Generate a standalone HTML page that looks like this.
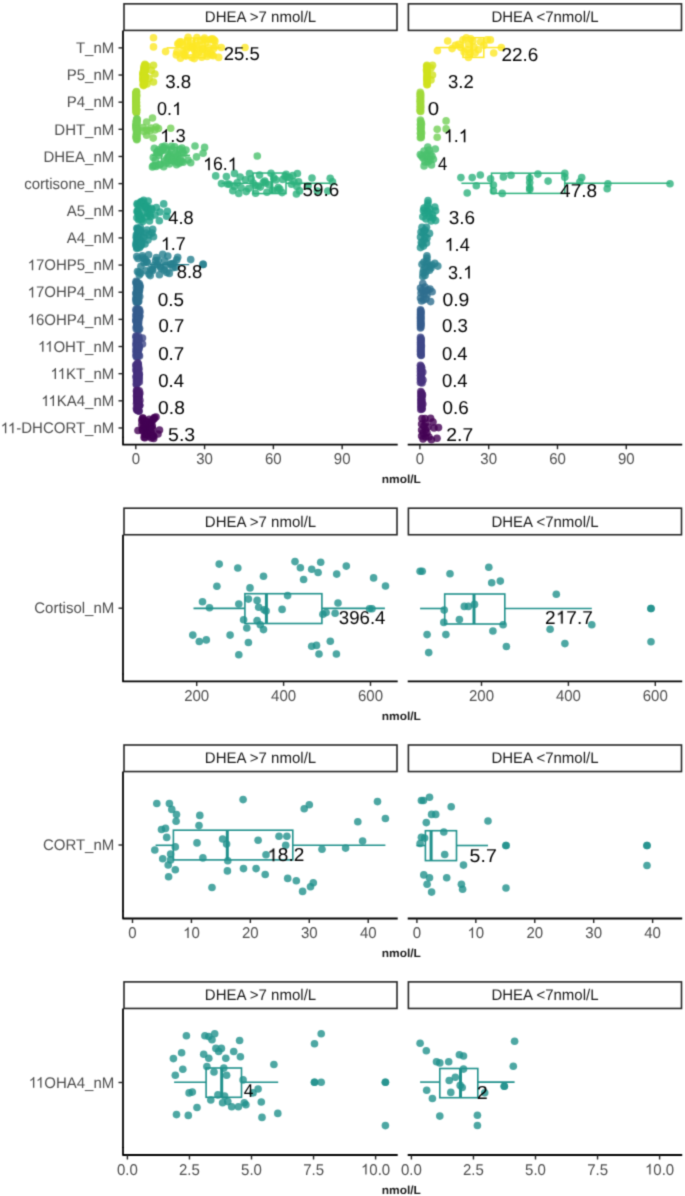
<!DOCTYPE html><html><head><meta charset="utf-8"><style>html,body{margin:0;padding:0;background:#fff;}svg{display:block;}text{font-family:"Liberation Sans",sans-serif;text-rendering:geometricPrecision;}</style></head><body>
<div id="w">
<svg width="685" height="1196" viewBox="0 0 685 1196">
<defs><filter id="bl" filterUnits="userSpaceOnUse" x="0" y="0" width="685" height="1196" color-interpolation-filters="sRGB"><feConvolveMatrix order="3" kernelMatrix="0.0622 0.2494 0.0622 0.2494 1.0000 0.2494 0.0622 0.2494 0.0622" divisor="2.2461" edgeMode="duplicate"/></filter></defs><g filter="url(#bl)"><rect width="685" height="1196" fill="#fff"/>
<rect x="124.00" y="3.85" width="273.00" height="26.55" fill="#fff" stroke="#262626" stroke-width="1.6"/>
<rect x="408.40" y="3.85" width="273.10" height="26.55" fill="#fff" stroke="#262626" stroke-width="1.6"/>
<path d="M123.0,436.7 L123.0,444.7 L397.7,444.7" fill="none" stroke="#000" stroke-width="1.8" stroke-linejoin="round"/>
<line x1="407.70" y1="444.70" x2="682.20" y2="444.70" stroke="#000" stroke-width="1.8"/>
<line x1="135.80" y1="444.70" x2="135.80" y2="449.20" stroke="#222" stroke-width="1.4"/>
<line x1="204.59" y1="444.70" x2="204.59" y2="449.20" stroke="#222" stroke-width="1.4"/>
<line x1="273.38" y1="444.70" x2="273.38" y2="449.20" stroke="#222" stroke-width="1.4"/>
<line x1="342.17" y1="444.70" x2="342.17" y2="449.20" stroke="#222" stroke-width="1.4"/>
<line x1="419.90" y1="444.70" x2="419.90" y2="449.20" stroke="#222" stroke-width="1.4"/>
<line x1="488.69" y1="444.70" x2="488.69" y2="449.20" stroke="#222" stroke-width="1.4"/>
<line x1="557.48" y1="444.70" x2="557.48" y2="449.20" stroke="#222" stroke-width="1.4"/>
<line x1="626.27" y1="444.70" x2="626.27" y2="449.20" stroke="#222" stroke-width="1.4"/>
<line x1="123.00" y1="30.40" x2="123.00" y2="437.70" stroke="#000" stroke-width="1.8"/>
<line x1="118.50" y1="47.87" x2="123.00" y2="47.87" stroke="#222" stroke-width="1.4"/>
<line x1="118.50" y1="75.02" x2="123.00" y2="75.02" stroke="#222" stroke-width="1.4"/>
<line x1="118.50" y1="102.17" x2="123.00" y2="102.17" stroke="#222" stroke-width="1.4"/>
<line x1="118.50" y1="129.32" x2="123.00" y2="129.32" stroke="#222" stroke-width="1.4"/>
<line x1="118.50" y1="156.47" x2="123.00" y2="156.47" stroke="#222" stroke-width="1.4"/>
<line x1="118.50" y1="183.62" x2="123.00" y2="183.62" stroke="#222" stroke-width="1.4"/>
<line x1="118.50" y1="210.77" x2="123.00" y2="210.77" stroke="#222" stroke-width="1.4"/>
<line x1="118.50" y1="237.92" x2="123.00" y2="237.92" stroke="#222" stroke-width="1.4"/>
<line x1="118.50" y1="265.07" x2="123.00" y2="265.07" stroke="#222" stroke-width="1.4"/>
<line x1="118.50" y1="292.22" x2="123.00" y2="292.22" stroke="#222" stroke-width="1.4"/>
<line x1="118.50" y1="319.37" x2="123.00" y2="319.37" stroke="#222" stroke-width="1.4"/>
<line x1="118.50" y1="346.52" x2="123.00" y2="346.52" stroke="#222" stroke-width="1.4"/>
<line x1="118.50" y1="373.67" x2="123.00" y2="373.67" stroke="#222" stroke-width="1.4"/>
<line x1="118.50" y1="400.82" x2="123.00" y2="400.82" stroke="#222" stroke-width="1.4"/>
<line x1="118.50" y1="427.97" x2="123.00" y2="427.97" stroke="#222" stroke-width="1.4"/>
<line x1="166.60" y1="47.87" x2="185.00" y2="47.87" stroke="#fde725" stroke-width="1.5"/>
<line x1="205.00" y1="47.87" x2="221.30" y2="47.87" stroke="#fde725" stroke-width="1.5"/>
<rect x="185.00" y="38.02" width="20.00" height="19.70" fill="none" stroke="#fde725" stroke-width="1.5"/>
<line x1="194.30" y1="38.02" x2="194.30" y2="57.72" stroke="#fde725" stroke-width="2.8"/>
<circle cx="153.5" cy="37.7" r="3.8" fill="#fde725" fill-opacity="0.8"/>
<circle cx="153.5" cy="46.9" r="3.8" fill="#fde725" fill-opacity="0.8"/>
<circle cx="165.6" cy="51.6" r="3.8" fill="#fde725" fill-opacity="0.8"/>
<circle cx="245.0" cy="47.5" r="3.8" fill="#fde725" fill-opacity="0.8"/>
<circle cx="221.3" cy="47.5" r="3.8" fill="#fde725" fill-opacity="0.8"/>
<circle cx="218.7" cy="57.4" r="3.8" fill="#fde725" fill-opacity="0.8"/>
<circle cx="214.0" cy="40.0" r="3.8" fill="#fde725" fill-opacity="0.8"/>
<circle cx="212.0" cy="55.0" r="3.8" fill="#fde725" fill-opacity="0.8"/>
<circle cx="176.3" cy="54.9" r="3.8" fill="#fde725" fill-opacity="0.8"/>
<circle cx="176.9" cy="52.0" r="3.8" fill="#fde725" fill-opacity="0.8"/>
<circle cx="177.8" cy="43.7" r="3.8" fill="#fde725" fill-opacity="0.8"/>
<circle cx="178.9" cy="43.9" r="3.8" fill="#fde725" fill-opacity="0.8"/>
<circle cx="179.8" cy="41.7" r="3.8" fill="#fde725" fill-opacity="0.8"/>
<circle cx="180.4" cy="58.2" r="3.8" fill="#fde725" fill-opacity="0.8"/>
<circle cx="181.6" cy="42.1" r="3.8" fill="#fde725" fill-opacity="0.8"/>
<circle cx="182.3" cy="44.5" r="3.8" fill="#fde725" fill-opacity="0.8"/>
<circle cx="183.4" cy="51.4" r="3.8" fill="#fde725" fill-opacity="0.8"/>
<circle cx="183.7" cy="53.7" r="3.8" fill="#fde725" fill-opacity="0.8"/>
<circle cx="184.4" cy="55.3" r="3.8" fill="#fde725" fill-opacity="0.8"/>
<circle cx="185.8" cy="56.1" r="3.8" fill="#fde725" fill-opacity="0.8"/>
<circle cx="186.4" cy="49.7" r="3.8" fill="#fde725" fill-opacity="0.8"/>
<circle cx="187.4" cy="41.0" r="3.8" fill="#fde725" fill-opacity="0.8"/>
<circle cx="188.1" cy="37.4" r="3.8" fill="#fde725" fill-opacity="0.8"/>
<circle cx="188.8" cy="47.3" r="3.8" fill="#fde725" fill-opacity="0.8"/>
<circle cx="189.8" cy="45.9" r="3.8" fill="#fde725" fill-opacity="0.8"/>
<circle cx="190.5" cy="42.8" r="3.8" fill="#fde725" fill-opacity="0.8"/>
<circle cx="191.8" cy="57.6" r="3.8" fill="#fde725" fill-opacity="0.8"/>
<circle cx="192.4" cy="47.9" r="3.8" fill="#fde725" fill-opacity="0.8"/>
<circle cx="193.3" cy="46.8" r="3.8" fill="#fde725" fill-opacity="0.8"/>
<circle cx="194.3" cy="58.6" r="3.8" fill="#fde725" fill-opacity="0.8"/>
<circle cx="194.6" cy="50.3" r="3.8" fill="#fde725" fill-opacity="0.8"/>
<circle cx="195.7" cy="54.2" r="3.8" fill="#fde725" fill-opacity="0.8"/>
<circle cx="196.4" cy="45.2" r="3.8" fill="#fde725" fill-opacity="0.8"/>
<circle cx="196.9" cy="37.5" r="3.8" fill="#fde725" fill-opacity="0.8"/>
<circle cx="198.3" cy="52.9" r="3.8" fill="#fde725" fill-opacity="0.8"/>
<circle cx="198.7" cy="44.9" r="3.8" fill="#fde725" fill-opacity="0.8"/>
<circle cx="200.1" cy="50.6" r="3.8" fill="#fde725" fill-opacity="0.8"/>
<circle cx="200.5" cy="40.4" r="3.8" fill="#fde725" fill-opacity="0.8"/>
<circle cx="201.7" cy="57.3" r="3.8" fill="#fde725" fill-opacity="0.8"/>
<circle cx="202.6" cy="48.9" r="3.8" fill="#fde725" fill-opacity="0.8"/>
<circle cx="203.0" cy="49.4" r="3.8" fill="#fde725" fill-opacity="0.8"/>
<circle cx="204.2" cy="39.7" r="3.8" fill="#fde725" fill-opacity="0.8"/>
<circle cx="204.5" cy="38.0" r="3.8" fill="#fde725" fill-opacity="0.8"/>
<circle cx="205.4" cy="43.0" r="3.8" fill="#fde725" fill-opacity="0.8"/>
<circle cx="206.4" cy="51.8" r="3.8" fill="#fde725" fill-opacity="0.8"/>
<circle cx="207.1" cy="56.5" r="3.8" fill="#fde725" fill-opacity="0.8"/>
<circle cx="208.0" cy="53.9" r="3.8" fill="#fde725" fill-opacity="0.8"/>
<circle cx="209.0" cy="47.8" r="3.8" fill="#fde725" fill-opacity="0.8"/>
<circle cx="209.9" cy="40.0" r="3.8" fill="#fde725" fill-opacity="0.8"/>
<circle cx="210.7" cy="52.7" r="3.8" fill="#fde725" fill-opacity="0.8"/>
<circle cx="211.0" cy="39.2" r="3.8" fill="#fde725" fill-opacity="0.8"/>
<circle cx="212.5" cy="38.8" r="3.8" fill="#fde725" fill-opacity="0.8"/>
<circle cx="213.3" cy="55.7" r="3.8" fill="#fde725" fill-opacity="0.8"/>
<circle cx="213.8" cy="48.4" r="3.8" fill="#fde725" fill-opacity="0.8"/>
<circle cx="214.9" cy="41.1" r="3.8" fill="#fde725" fill-opacity="0.8"/>
<circle cx="215.2" cy="46.2" r="3.8" fill="#fde725" fill-opacity="0.8"/>
<circle cx="142.8" cy="72.9" r="3.8" fill="#d0e11c" fill-opacity="0.8"/>
<circle cx="142.8" cy="74.8" r="3.8" fill="#d0e11c" fill-opacity="0.8"/>
<circle cx="142.9" cy="79.6" r="3.8" fill="#d0e11c" fill-opacity="0.8"/>
<circle cx="143.0" cy="77.2" r="3.8" fill="#d0e11c" fill-opacity="0.8"/>
<circle cx="143.1" cy="84.5" r="3.8" fill="#d0e11c" fill-opacity="0.8"/>
<circle cx="143.2" cy="81.0" r="3.8" fill="#d0e11c" fill-opacity="0.8"/>
<circle cx="143.2" cy="78.9" r="3.8" fill="#d0e11c" fill-opacity="0.8"/>
<circle cx="143.3" cy="74.1" r="3.8" fill="#d0e11c" fill-opacity="0.8"/>
<circle cx="143.4" cy="78.4" r="3.8" fill="#d0e11c" fill-opacity="0.8"/>
<circle cx="143.5" cy="85.6" r="3.8" fill="#d0e11c" fill-opacity="0.8"/>
<circle cx="143.6" cy="83.1" r="3.8" fill="#d0e11c" fill-opacity="0.8"/>
<circle cx="143.7" cy="85.1" r="3.8" fill="#d0e11c" fill-opacity="0.8"/>
<circle cx="143.8" cy="73.2" r="3.8" fill="#d0e11c" fill-opacity="0.8"/>
<circle cx="143.8" cy="70.2" r="3.8" fill="#d0e11c" fill-opacity="0.8"/>
<circle cx="143.9" cy="67.5" r="3.8" fill="#d0e11c" fill-opacity="0.8"/>
<circle cx="144.0" cy="69.7" r="3.8" fill="#d0e11c" fill-opacity="0.8"/>
<circle cx="144.1" cy="80.6" r="3.8" fill="#d0e11c" fill-opacity="0.8"/>
<circle cx="144.1" cy="71.9" r="3.8" fill="#d0e11c" fill-opacity="0.8"/>
<circle cx="144.2" cy="68.2" r="3.8" fill="#d0e11c" fill-opacity="0.8"/>
<circle cx="144.3" cy="65.9" r="3.8" fill="#d0e11c" fill-opacity="0.8"/>
<circle cx="144.4" cy="82.0" r="3.8" fill="#d0e11c" fill-opacity="0.8"/>
<circle cx="144.4" cy="83.4" r="3.8" fill="#d0e11c" fill-opacity="0.8"/>
<circle cx="144.6" cy="71.4" r="3.8" fill="#d0e11c" fill-opacity="0.8"/>
<circle cx="144.6" cy="82.7" r="3.8" fill="#d0e11c" fill-opacity="0.8"/>
<circle cx="144.7" cy="75.0" r="3.8" fill="#d0e11c" fill-opacity="0.8"/>
<circle cx="144.8" cy="66.9" r="3.8" fill="#d0e11c" fill-opacity="0.8"/>
<circle cx="144.9" cy="76.2" r="3.8" fill="#d0e11c" fill-opacity="0.8"/>
<circle cx="144.9" cy="64.4" r="3.8" fill="#d0e11c" fill-opacity="0.8"/>
<circle cx="145.1" cy="66.2" r="3.8" fill="#d0e11c" fill-opacity="0.8"/>
<circle cx="145.2" cy="65.1" r="3.8" fill="#d0e11c" fill-opacity="0.8"/>
<circle cx="145.2" cy="76.4" r="3.8" fill="#d0e11c" fill-opacity="0.8"/>
<circle cx="145.3" cy="78.0" r="3.8" fill="#d0e11c" fill-opacity="0.8"/>
<circle cx="145.4" cy="69.1" r="3.8" fill="#d0e11c" fill-opacity="0.8"/>
<circle cx="145.4" cy="70.6" r="3.8" fill="#d0e11c" fill-opacity="0.8"/>
<circle cx="153.5" cy="65.2" r="3.8" fill="#d0e11c" fill-opacity="0.8"/>
<circle cx="154.9" cy="74.0" r="3.8" fill="#d0e11c" fill-opacity="0.8"/>
<circle cx="153.5" cy="82.0" r="3.8" fill="#d0e11c" fill-opacity="0.8"/>
<circle cx="151.3" cy="70.3" r="3.8" fill="#d0e11c" fill-opacity="0.8"/>
<circle cx="149.1" cy="78.4" r="3.8" fill="#d0e11c" fill-opacity="0.8"/>
<circle cx="147.0" cy="66.0" r="3.8" fill="#d0e11c" fill-opacity="0.8"/>
<circle cx="147.0" cy="84.0" r="3.8" fill="#d0e11c" fill-opacity="0.8"/>
<circle cx="135.9" cy="93.1" r="3.8" fill="#a0da39" fill-opacity="0.8"/>
<circle cx="135.9" cy="97.5" r="3.8" fill="#a0da39" fill-opacity="0.8"/>
<circle cx="135.9" cy="98.1" r="3.8" fill="#a0da39" fill-opacity="0.8"/>
<circle cx="136.0" cy="99.6" r="3.8" fill="#a0da39" fill-opacity="0.8"/>
<circle cx="136.0" cy="107.6" r="3.8" fill="#a0da39" fill-opacity="0.8"/>
<circle cx="136.0" cy="105.1" r="3.8" fill="#a0da39" fill-opacity="0.8"/>
<circle cx="136.0" cy="101.9" r="3.8" fill="#a0da39" fill-opacity="0.8"/>
<circle cx="136.0" cy="108.8" r="3.8" fill="#a0da39" fill-opacity="0.8"/>
<circle cx="136.0" cy="101.0" r="3.8" fill="#a0da39" fill-opacity="0.8"/>
<circle cx="136.0" cy="100.5" r="3.8" fill="#a0da39" fill-opacity="0.8"/>
<circle cx="136.1" cy="93.8" r="3.8" fill="#a0da39" fill-opacity="0.8"/>
<circle cx="136.1" cy="97.1" r="3.8" fill="#a0da39" fill-opacity="0.8"/>
<circle cx="136.1" cy="103.0" r="3.8" fill="#a0da39" fill-opacity="0.8"/>
<circle cx="136.1" cy="92.5" r="3.8" fill="#a0da39" fill-opacity="0.8"/>
<circle cx="136.1" cy="98.8" r="3.8" fill="#a0da39" fill-opacity="0.8"/>
<circle cx="136.1" cy="104.6" r="3.8" fill="#a0da39" fill-opacity="0.8"/>
<circle cx="136.2" cy="111.1" r="3.8" fill="#a0da39" fill-opacity="0.8"/>
<circle cx="136.2" cy="96.6" r="3.8" fill="#a0da39" fill-opacity="0.8"/>
<circle cx="136.2" cy="100.2" r="3.8" fill="#a0da39" fill-opacity="0.8"/>
<circle cx="136.2" cy="94.9" r="3.8" fill="#a0da39" fill-opacity="0.8"/>
<circle cx="136.2" cy="111.4" r="3.8" fill="#a0da39" fill-opacity="0.8"/>
<circle cx="136.2" cy="108.3" r="3.8" fill="#a0da39" fill-opacity="0.8"/>
<circle cx="136.2" cy="103.4" r="3.8" fill="#a0da39" fill-opacity="0.8"/>
<circle cx="136.3" cy="108.2" r="3.8" fill="#a0da39" fill-opacity="0.8"/>
<circle cx="136.3" cy="106.9" r="3.8" fill="#a0da39" fill-opacity="0.8"/>
<circle cx="136.3" cy="103.9" r="3.8" fill="#a0da39" fill-opacity="0.8"/>
<circle cx="136.3" cy="106.6" r="3.8" fill="#a0da39" fill-opacity="0.8"/>
<circle cx="136.3" cy="98.0" r="3.8" fill="#a0da39" fill-opacity="0.8"/>
<circle cx="136.3" cy="93.6" r="3.8" fill="#a0da39" fill-opacity="0.8"/>
<circle cx="136.4" cy="102.8" r="3.8" fill="#a0da39" fill-opacity="0.8"/>
<circle cx="136.4" cy="99.2" r="3.8" fill="#a0da39" fill-opacity="0.8"/>
<circle cx="136.4" cy="94.4" r="3.8" fill="#a0da39" fill-opacity="0.8"/>
<circle cx="136.4" cy="91.5" r="3.8" fill="#a0da39" fill-opacity="0.8"/>
<circle cx="136.4" cy="112.3" r="3.8" fill="#a0da39" fill-opacity="0.8"/>
<circle cx="136.4" cy="112.7" r="3.8" fill="#a0da39" fill-opacity="0.8"/>
<circle cx="136.5" cy="110.3" r="3.8" fill="#a0da39" fill-opacity="0.8"/>
<circle cx="136.5" cy="102.0" r="3.8" fill="#a0da39" fill-opacity="0.8"/>
<circle cx="136.5" cy="105.9" r="3.8" fill="#a0da39" fill-opacity="0.8"/>
<circle cx="136.5" cy="109.7" r="3.8" fill="#a0da39" fill-opacity="0.8"/>
<circle cx="136.5" cy="112.0" r="3.8" fill="#a0da39" fill-opacity="0.8"/>
<circle cx="136.5" cy="105.7" r="3.8" fill="#a0da39" fill-opacity="0.8"/>
<circle cx="136.6" cy="109.6" r="3.8" fill="#a0da39" fill-opacity="0.8"/>
<circle cx="136.6" cy="96.1" r="3.8" fill="#a0da39" fill-opacity="0.8"/>
<circle cx="136.6" cy="92.1" r="3.8" fill="#a0da39" fill-opacity="0.8"/>
<circle cx="136.6" cy="95.4" r="3.8" fill="#a0da39" fill-opacity="0.8"/>
<line x1="139.60" y1="128.00" x2="160.00" y2="128.00" stroke="#73d056" stroke-width="1.2"/>
<circle cx="136.0" cy="125.6" r="3.8" fill="#73d056" fill-opacity="0.8"/>
<circle cx="136.0" cy="125.0" r="3.8" fill="#73d056" fill-opacity="0.8"/>
<circle cx="136.1" cy="128.2" r="3.8" fill="#73d056" fill-opacity="0.8"/>
<circle cx="136.1" cy="127.5" r="3.8" fill="#73d056" fill-opacity="0.8"/>
<circle cx="136.2" cy="137.6" r="3.8" fill="#73d056" fill-opacity="0.8"/>
<circle cx="136.2" cy="126.1" r="3.8" fill="#73d056" fill-opacity="0.8"/>
<circle cx="136.2" cy="124.6" r="3.8" fill="#73d056" fill-opacity="0.8"/>
<circle cx="136.3" cy="135.4" r="3.8" fill="#73d056" fill-opacity="0.8"/>
<circle cx="136.3" cy="138.3" r="3.8" fill="#73d056" fill-opacity="0.8"/>
<circle cx="136.3" cy="121.3" r="3.8" fill="#73d056" fill-opacity="0.8"/>
<circle cx="136.4" cy="122.8" r="3.8" fill="#73d056" fill-opacity="0.8"/>
<circle cx="136.4" cy="129.0" r="3.8" fill="#73d056" fill-opacity="0.8"/>
<circle cx="136.4" cy="136.3" r="3.8" fill="#73d056" fill-opacity="0.8"/>
<circle cx="136.5" cy="133.7" r="3.8" fill="#73d056" fill-opacity="0.8"/>
<circle cx="136.5" cy="130.4" r="3.8" fill="#73d056" fill-opacity="0.8"/>
<circle cx="136.5" cy="120.6" r="3.8" fill="#73d056" fill-opacity="0.8"/>
<circle cx="136.6" cy="136.4" r="3.8" fill="#73d056" fill-opacity="0.8"/>
<circle cx="136.6" cy="131.1" r="3.8" fill="#73d056" fill-opacity="0.8"/>
<circle cx="136.6" cy="123.0" r="3.8" fill="#73d056" fill-opacity="0.8"/>
<circle cx="136.7" cy="132.4" r="3.8" fill="#73d056" fill-opacity="0.8"/>
<circle cx="136.7" cy="134.2" r="3.8" fill="#73d056" fill-opacity="0.8"/>
<circle cx="136.8" cy="137.1" r="3.8" fill="#73d056" fill-opacity="0.8"/>
<circle cx="136.8" cy="139.8" r="3.8" fill="#73d056" fill-opacity="0.8"/>
<circle cx="136.8" cy="118.7" r="3.8" fill="#73d056" fill-opacity="0.8"/>
<circle cx="136.9" cy="124.2" r="3.8" fill="#73d056" fill-opacity="0.8"/>
<circle cx="136.9" cy="120.1" r="3.8" fill="#73d056" fill-opacity="0.8"/>
<circle cx="136.9" cy="127.4" r="3.8" fill="#73d056" fill-opacity="0.8"/>
<circle cx="137.0" cy="139.1" r="3.8" fill="#73d056" fill-opacity="0.8"/>
<circle cx="137.0" cy="132.8" r="3.8" fill="#73d056" fill-opacity="0.8"/>
<circle cx="137.0" cy="134.8" r="3.8" fill="#73d056" fill-opacity="0.8"/>
<circle cx="137.1" cy="119.4" r="3.8" fill="#73d056" fill-opacity="0.8"/>
<circle cx="137.1" cy="129.5" r="3.8" fill="#73d056" fill-opacity="0.8"/>
<circle cx="137.1" cy="121.9" r="3.8" fill="#73d056" fill-opacity="0.8"/>
<circle cx="137.2" cy="131.3" r="3.8" fill="#73d056" fill-opacity="0.8"/>
<circle cx="152.5" cy="118.0" r="3.8" fill="#73d056" fill-opacity="0.8"/>
<circle cx="146.6" cy="122.0" r="3.8" fill="#73d056" fill-opacity="0.8"/>
<circle cx="146.6" cy="135.2" r="3.8" fill="#73d056" fill-opacity="0.8"/>
<circle cx="153.2" cy="138.1" r="3.8" fill="#73d056" fill-opacity="0.8"/>
<circle cx="170.7" cy="128.2" r="3.8" fill="#73d056" fill-opacity="0.8"/>
<circle cx="143.0" cy="127.5" r="3.8" fill="#73d056" fill-opacity="0.8"/>
<circle cx="147.0" cy="130.0" r="3.8" fill="#73d056" fill-opacity="0.8"/>
<circle cx="151.0" cy="128.0" r="3.8" fill="#73d056" fill-opacity="0.8"/>
<circle cx="155.0" cy="130.0" r="3.8" fill="#73d056" fill-opacity="0.8"/>
<circle cx="158.5" cy="128.5" r="3.8" fill="#73d056" fill-opacity="0.8"/>
<circle cx="144.0" cy="131.5" r="3.8" fill="#73d056" fill-opacity="0.8"/>
<circle cx="150.0" cy="131.0" r="3.8" fill="#73d056" fill-opacity="0.8"/>
<circle cx="156.0" cy="127.0" r="3.8" fill="#73d056" fill-opacity="0.8"/>
<line x1="152.00" y1="155.40" x2="161.60" y2="155.40" stroke="#4ac16d" stroke-width="1.5"/>
<line x1="177.30" y1="155.40" x2="190.00" y2="155.40" stroke="#4ac16d" stroke-width="1.5"/>
<rect x="161.60" y="147.60" width="15.70" height="15.60" fill="none" stroke="#4ac16d" stroke-width="1.5"/>
<line x1="169.00" y1="147.60" x2="169.00" y2="163.20" stroke="#4ac16d" stroke-width="2.8"/>
<circle cx="152.4" cy="166.9" r="3.8" fill="#4ac16d" fill-opacity="0.8"/>
<circle cx="153.1" cy="165.8" r="3.8" fill="#4ac16d" fill-opacity="0.8"/>
<circle cx="153.3" cy="157.4" r="3.8" fill="#4ac16d" fill-opacity="0.8"/>
<circle cx="154.3" cy="148.2" r="3.8" fill="#4ac16d" fill-opacity="0.8"/>
<circle cx="154.9" cy="165.6" r="3.8" fill="#4ac16d" fill-opacity="0.8"/>
<circle cx="155.4" cy="160.0" r="3.8" fill="#4ac16d" fill-opacity="0.8"/>
<circle cx="156.0" cy="166.4" r="3.8" fill="#4ac16d" fill-opacity="0.8"/>
<circle cx="156.8" cy="152.6" r="3.8" fill="#4ac16d" fill-opacity="0.8"/>
<circle cx="157.3" cy="151.9" r="3.8" fill="#4ac16d" fill-opacity="0.8"/>
<circle cx="157.6" cy="152.8" r="3.8" fill="#4ac16d" fill-opacity="0.8"/>
<circle cx="158.6" cy="149.9" r="3.8" fill="#4ac16d" fill-opacity="0.8"/>
<circle cx="159.1" cy="155.2" r="3.8" fill="#4ac16d" fill-opacity="0.8"/>
<circle cx="159.4" cy="164.9" r="3.8" fill="#4ac16d" fill-opacity="0.8"/>
<circle cx="160.4" cy="164.3" r="3.8" fill="#4ac16d" fill-opacity="0.8"/>
<circle cx="161.0" cy="151.2" r="3.8" fill="#4ac16d" fill-opacity="0.8"/>
<circle cx="161.5" cy="150.8" r="3.8" fill="#4ac16d" fill-opacity="0.8"/>
<circle cx="162.1" cy="146.9" r="3.8" fill="#4ac16d" fill-opacity="0.8"/>
<circle cx="163.0" cy="150.3" r="3.8" fill="#4ac16d" fill-opacity="0.8"/>
<circle cx="163.7" cy="147.7" r="3.8" fill="#4ac16d" fill-opacity="0.8"/>
<circle cx="163.7" cy="166.7" r="3.8" fill="#4ac16d" fill-opacity="0.8"/>
<circle cx="164.8" cy="146.0" r="3.8" fill="#4ac16d" fill-opacity="0.8"/>
<circle cx="165.2" cy="160.8" r="3.8" fill="#4ac16d" fill-opacity="0.8"/>
<circle cx="165.7" cy="148.9" r="3.8" fill="#4ac16d" fill-opacity="0.8"/>
<circle cx="166.3" cy="163.0" r="3.8" fill="#4ac16d" fill-opacity="0.8"/>
<circle cx="166.9" cy="158.4" r="3.8" fill="#4ac16d" fill-opacity="0.8"/>
<circle cx="168.0" cy="157.8" r="3.8" fill="#4ac16d" fill-opacity="0.8"/>
<circle cx="168.5" cy="155.0" r="3.8" fill="#4ac16d" fill-opacity="0.8"/>
<circle cx="169.2" cy="156.3" r="3.8" fill="#4ac16d" fill-opacity="0.8"/>
<circle cx="169.4" cy="163.9" r="3.8" fill="#4ac16d" fill-opacity="0.8"/>
<circle cx="170.1" cy="154.4" r="3.8" fill="#4ac16d" fill-opacity="0.8"/>
<circle cx="170.5" cy="156.7" r="3.8" fill="#4ac16d" fill-opacity="0.8"/>
<circle cx="171.4" cy="146.2" r="3.8" fill="#4ac16d" fill-opacity="0.8"/>
<circle cx="171.8" cy="149.1" r="3.8" fill="#4ac16d" fill-opacity="0.8"/>
<circle cx="172.5" cy="160.6" r="3.8" fill="#4ac16d" fill-opacity="0.8"/>
<circle cx="172.9" cy="157.2" r="3.8" fill="#4ac16d" fill-opacity="0.8"/>
<circle cx="174.1" cy="159.0" r="3.8" fill="#4ac16d" fill-opacity="0.8"/>
<circle cx="174.7" cy="146.7" r="3.8" fill="#4ac16d" fill-opacity="0.8"/>
<circle cx="175.3" cy="162.0" r="3.8" fill="#4ac16d" fill-opacity="0.8"/>
<circle cx="175.6" cy="153.3" r="3.8" fill="#4ac16d" fill-opacity="0.8"/>
<circle cx="176.6" cy="164.7" r="3.8" fill="#4ac16d" fill-opacity="0.8"/>
<circle cx="176.8" cy="158.7" r="3.8" fill="#4ac16d" fill-opacity="0.8"/>
<circle cx="177.4" cy="154.0" r="3.8" fill="#4ac16d" fill-opacity="0.8"/>
<circle cx="177.9" cy="156.0" r="3.8" fill="#4ac16d" fill-opacity="0.8"/>
<circle cx="178.6" cy="161.9" r="3.8" fill="#4ac16d" fill-opacity="0.8"/>
<circle cx="179.2" cy="163.3" r="3.8" fill="#4ac16d" fill-opacity="0.8"/>
<circle cx="180.0" cy="149.4" r="3.8" fill="#4ac16d" fill-opacity="0.8"/>
<circle cx="180.5" cy="159.8" r="3.8" fill="#4ac16d" fill-opacity="0.8"/>
<circle cx="181.5" cy="161.4" r="3.8" fill="#4ac16d" fill-opacity="0.8"/>
<circle cx="181.9" cy="148.1" r="3.8" fill="#4ac16d" fill-opacity="0.8"/>
<circle cx="182.7" cy="151.7" r="3.8" fill="#4ac16d" fill-opacity="0.8"/>
<circle cx="183.2" cy="162.3" r="3.8" fill="#4ac16d" fill-opacity="0.8"/>
<circle cx="183.8" cy="153.7" r="3.8" fill="#4ac16d" fill-opacity="0.8"/>
<circle cx="195.0" cy="146.0" r="3.8" fill="#4ac16d" fill-opacity="0.8"/>
<circle cx="204.6" cy="147.4" r="3.8" fill="#4ac16d" fill-opacity="0.8"/>
<circle cx="203.1" cy="153.2" r="3.8" fill="#4ac16d" fill-opacity="0.8"/>
<circle cx="196.5" cy="156.9" r="3.8" fill="#4ac16d" fill-opacity="0.8"/>
<circle cx="190.7" cy="162.7" r="3.8" fill="#4ac16d" fill-opacity="0.8"/>
<circle cx="257.3" cy="156.0" r="3.8" fill="#4ac16d" fill-opacity="0.8"/>
<circle cx="186.0" cy="150.0" r="3.8" fill="#4ac16d" fill-opacity="0.8"/>
<circle cx="188.0" cy="160.0" r="3.8" fill="#4ac16d" fill-opacity="0.8"/>
<line x1="221.50" y1="183.30" x2="253.10" y2="183.30" stroke="#2db27d" stroke-width="1.5"/>
<line x1="286.00" y1="183.30" x2="330.20" y2="183.30" stroke="#2db27d" stroke-width="1.5"/>
<rect x="253.10" y="173.05" width="32.90" height="20.50" fill="none" stroke="#2db27d" stroke-width="1.5"/>
<line x1="271.90" y1="173.05" x2="271.90" y2="193.55" stroke="#2db27d" stroke-width="2.8"/>
<circle cx="215.7" cy="175.9" r="3.8" fill="#2db27d" fill-opacity="0.8"/>
<circle cx="221.5" cy="183.6" r="3.8" fill="#2db27d" fill-opacity="0.8"/>
<circle cx="227.4" cy="184.0" r="3.8" fill="#2db27d" fill-opacity="0.8"/>
<circle cx="234.4" cy="186.4" r="3.8" fill="#2db27d" fill-opacity="0.8"/>
<circle cx="240.2" cy="177.0" r="3.8" fill="#2db27d" fill-opacity="0.8"/>
<circle cx="330.2" cy="178.2" r="3.8" fill="#2db27d" fill-opacity="0.8"/>
<circle cx="332.5" cy="181.7" r="3.8" fill="#2db27d" fill-opacity="0.8"/>
<circle cx="327.8" cy="191.0" r="3.8" fill="#2db27d" fill-opacity="0.8"/>
<circle cx="317.3" cy="191.0" r="3.8" fill="#2db27d" fill-opacity="0.8"/>
<circle cx="297.4" cy="173.5" r="3.8" fill="#2db27d" fill-opacity="0.8"/>
<circle cx="298.6" cy="181.7" r="3.8" fill="#2db27d" fill-opacity="0.8"/>
<circle cx="308.0" cy="186.0" r="3.8" fill="#2db27d" fill-opacity="0.8"/>
<circle cx="312.0" cy="178.0" r="3.8" fill="#2db27d" fill-opacity="0.8"/>
<circle cx="226.4" cy="176.6" r="3.8" fill="#2db27d" fill-opacity="0.8"/>
<circle cx="229.2" cy="184.3" r="3.8" fill="#2db27d" fill-opacity="0.8"/>
<circle cx="232.8" cy="190.8" r="3.8" fill="#2db27d" fill-opacity="0.8"/>
<circle cx="234.5" cy="173.4" r="3.8" fill="#2db27d" fill-opacity="0.8"/>
<circle cx="237.2" cy="182.7" r="3.8" fill="#2db27d" fill-opacity="0.8"/>
<circle cx="238.8" cy="193.5" r="3.8" fill="#2db27d" fill-opacity="0.8"/>
<circle cx="241.2" cy="187.7" r="3.8" fill="#2db27d" fill-opacity="0.8"/>
<circle cx="245.5" cy="179.7" r="3.8" fill="#2db27d" fill-opacity="0.8"/>
<circle cx="246.2" cy="191.6" r="3.8" fill="#2db27d" fill-opacity="0.8"/>
<circle cx="248.6" cy="188.6" r="3.8" fill="#2db27d" fill-opacity="0.8"/>
<circle cx="249.5" cy="173.6" r="3.8" fill="#2db27d" fill-opacity="0.8"/>
<circle cx="251.2" cy="178.8" r="3.8" fill="#2db27d" fill-opacity="0.8"/>
<circle cx="253.1" cy="183.0" r="3.8" fill="#2db27d" fill-opacity="0.8"/>
<circle cx="255.3" cy="185.5" r="3.8" fill="#2db27d" fill-opacity="0.8"/>
<circle cx="255.6" cy="193.2" r="3.8" fill="#2db27d" fill-opacity="0.8"/>
<circle cx="258.2" cy="186.1" r="3.8" fill="#2db27d" fill-opacity="0.8"/>
<circle cx="259.5" cy="175.1" r="3.8" fill="#2db27d" fill-opacity="0.8"/>
<circle cx="260.3" cy="187.1" r="3.8" fill="#2db27d" fill-opacity="0.8"/>
<circle cx="263.4" cy="182.2" r="3.8" fill="#2db27d" fill-opacity="0.8"/>
<circle cx="264.8" cy="181.0" r="3.8" fill="#2db27d" fill-opacity="0.8"/>
<circle cx="265.5" cy="183.1" r="3.8" fill="#2db27d" fill-opacity="0.8"/>
<circle cx="266.9" cy="192.3" r="3.8" fill="#2db27d" fill-opacity="0.8"/>
<circle cx="269.3" cy="184.9" r="3.8" fill="#2db27d" fill-opacity="0.8"/>
<circle cx="271.0" cy="173.2" r="3.8" fill="#2db27d" fill-opacity="0.8"/>
<circle cx="272.6" cy="190.3" r="3.8" fill="#2db27d" fill-opacity="0.8"/>
<circle cx="273.9" cy="177.9" r="3.8" fill="#2db27d" fill-opacity="0.8"/>
<circle cx="275.8" cy="179.9" r="3.8" fill="#2db27d" fill-opacity="0.8"/>
<circle cx="277.6" cy="189.8" r="3.8" fill="#2db27d" fill-opacity="0.8"/>
<circle cx="278.2" cy="187.5" r="3.8" fill="#2db27d" fill-opacity="0.8"/>
<circle cx="279.8" cy="189.1" r="3.8" fill="#2db27d" fill-opacity="0.8"/>
<circle cx="282.1" cy="192.6" r="3.8" fill="#2db27d" fill-opacity="0.8"/>
<circle cx="282.6" cy="179.5" r="3.8" fill="#2db27d" fill-opacity="0.8"/>
<circle cx="285.0" cy="176.2" r="3.8" fill="#2db27d" fill-opacity="0.8"/>
<circle cx="286.1" cy="174.4" r="3.8" fill="#2db27d" fill-opacity="0.8"/>
<circle cx="287.3" cy="177.4" r="3.8" fill="#2db27d" fill-opacity="0.8"/>
<circle cx="289.6" cy="177.2" r="3.8" fill="#2db27d" fill-opacity="0.8"/>
<circle cx="291.5" cy="184.2" r="3.8" fill="#2db27d" fill-opacity="0.8"/>
<circle cx="292.8" cy="175.5" r="3.8" fill="#2db27d" fill-opacity="0.8"/>
<circle cx="294.0" cy="181.7" r="3.8" fill="#2db27d" fill-opacity="0.8"/>
<circle cx="296.4" cy="194.0" r="3.8" fill="#2db27d" fill-opacity="0.8"/>
<circle cx="296.9" cy="186.5" r="3.8" fill="#2db27d" fill-opacity="0.8"/>
<circle cx="299.5" cy="190.9" r="3.8" fill="#2db27d" fill-opacity="0.8"/>
<circle cx="136.9" cy="217.7" r="3.8" fill="#1fa187" fill-opacity="0.8"/>
<circle cx="137.0" cy="211.4" r="3.8" fill="#1fa187" fill-opacity="0.8"/>
<circle cx="137.2" cy="203.5" r="3.8" fill="#1fa187" fill-opacity="0.8"/>
<circle cx="137.3" cy="204.8" r="3.8" fill="#1fa187" fill-opacity="0.8"/>
<circle cx="137.7" cy="212.2" r="3.8" fill="#1fa187" fill-opacity="0.8"/>
<circle cx="138.0" cy="210.3" r="3.8" fill="#1fa187" fill-opacity="0.8"/>
<circle cx="138.2" cy="211.2" r="3.8" fill="#1fa187" fill-opacity="0.8"/>
<circle cx="138.4" cy="215.1" r="3.8" fill="#1fa187" fill-opacity="0.8"/>
<circle cx="138.7" cy="219.9" r="3.8" fill="#1fa187" fill-opacity="0.8"/>
<circle cx="139.0" cy="204.5" r="3.8" fill="#1fa187" fill-opacity="0.8"/>
<circle cx="139.5" cy="214.7" r="3.8" fill="#1fa187" fill-opacity="0.8"/>
<circle cx="139.8" cy="219.1" r="3.8" fill="#1fa187" fill-opacity="0.8"/>
<circle cx="140.4" cy="216.2" r="3.8" fill="#1fa187" fill-opacity="0.8"/>
<circle cx="140.6" cy="202.4" r="3.8" fill="#1fa187" fill-opacity="0.8"/>
<circle cx="140.9" cy="201.8" r="3.8" fill="#1fa187" fill-opacity="0.8"/>
<circle cx="141.4" cy="218.5" r="3.8" fill="#1fa187" fill-opacity="0.8"/>
<circle cx="141.9" cy="219.7" r="3.8" fill="#1fa187" fill-opacity="0.8"/>
<circle cx="142.3" cy="201.6" r="3.8" fill="#1fa187" fill-opacity="0.8"/>
<circle cx="142.7" cy="221.5" r="3.8" fill="#1fa187" fill-opacity="0.8"/>
<circle cx="143.1" cy="205.8" r="3.8" fill="#1fa187" fill-opacity="0.8"/>
<circle cx="143.6" cy="200.2" r="3.8" fill="#1fa187" fill-opacity="0.8"/>
<circle cx="144.2" cy="203.7" r="3.8" fill="#1fa187" fill-opacity="0.8"/>
<circle cx="144.8" cy="207.4" r="3.8" fill="#1fa187" fill-opacity="0.8"/>
<circle cx="145.2" cy="212.7" r="3.8" fill="#1fa187" fill-opacity="0.8"/>
<circle cx="145.7" cy="206.8" r="3.8" fill="#1fa187" fill-opacity="0.8"/>
<circle cx="146.1" cy="208.0" r="3.8" fill="#1fa187" fill-opacity="0.8"/>
<circle cx="146.9" cy="216.8" r="3.8" fill="#1fa187" fill-opacity="0.8"/>
<circle cx="147.1" cy="206.0" r="3.8" fill="#1fa187" fill-opacity="0.8"/>
<circle cx="147.8" cy="213.4" r="3.8" fill="#1fa187" fill-opacity="0.8"/>
<circle cx="148.2" cy="201.1" r="3.8" fill="#1fa187" fill-opacity="0.8"/>
<circle cx="148.6" cy="209.4" r="3.8" fill="#1fa187" fill-opacity="0.8"/>
<circle cx="149.5" cy="221.0" r="3.8" fill="#1fa187" fill-opacity="0.8"/>
<circle cx="149.9" cy="214.2" r="3.8" fill="#1fa187" fill-opacity="0.8"/>
<circle cx="150.6" cy="216.7" r="3.8" fill="#1fa187" fill-opacity="0.8"/>
<circle cx="151.4" cy="208.4" r="3.8" fill="#1fa187" fill-opacity="0.8"/>
<circle cx="151.9" cy="209.6" r="3.8" fill="#1fa187" fill-opacity="0.8"/>
<circle cx="163.7" cy="203.9" r="3.8" fill="#1fa187" fill-opacity="0.8"/>
<circle cx="167.3" cy="211.2" r="3.8" fill="#1fa187" fill-opacity="0.8"/>
<circle cx="166.6" cy="216.3" r="3.8" fill="#1fa187" fill-opacity="0.8"/>
<circle cx="159.3" cy="220.7" r="3.8" fill="#1fa187" fill-opacity="0.8"/>
<circle cx="156.4" cy="207.5" r="3.8" fill="#1fa187" fill-opacity="0.8"/>
<circle cx="160.0" cy="212.0" r="3.8" fill="#1fa187" fill-opacity="0.8"/>
<circle cx="155.0" cy="215.0" r="3.8" fill="#1fa187" fill-opacity="0.8"/>
<circle cx="136.1" cy="244.4" r="3.8" fill="#21918c" fill-opacity="0.8"/>
<circle cx="136.1" cy="245.4" r="3.8" fill="#21918c" fill-opacity="0.8"/>
<circle cx="136.2" cy="237.2" r="3.8" fill="#21918c" fill-opacity="0.8"/>
<circle cx="136.3" cy="242.1" r="3.8" fill="#21918c" fill-opacity="0.8"/>
<circle cx="136.4" cy="234.8" r="3.8" fill="#21918c" fill-opacity="0.8"/>
<circle cx="136.5" cy="243.5" r="3.8" fill="#21918c" fill-opacity="0.8"/>
<circle cx="136.6" cy="246.9" r="3.8" fill="#21918c" fill-opacity="0.8"/>
<circle cx="136.7" cy="239.5" r="3.8" fill="#21918c" fill-opacity="0.8"/>
<circle cx="136.8" cy="248.5" r="3.8" fill="#21918c" fill-opacity="0.8"/>
<circle cx="137.0" cy="228.1" r="3.8" fill="#21918c" fill-opacity="0.8"/>
<circle cx="137.1" cy="237.5" r="3.8" fill="#21918c" fill-opacity="0.8"/>
<circle cx="137.2" cy="228.9" r="3.8" fill="#21918c" fill-opacity="0.8"/>
<circle cx="137.5" cy="247.4" r="3.8" fill="#21918c" fill-opacity="0.8"/>
<circle cx="137.5" cy="234.1" r="3.8" fill="#21918c" fill-opacity="0.8"/>
<circle cx="137.8" cy="235.9" r="3.8" fill="#21918c" fill-opacity="0.8"/>
<circle cx="137.8" cy="231.0" r="3.8" fill="#21918c" fill-opacity="0.8"/>
<circle cx="138.1" cy="228.8" r="3.8" fill="#21918c" fill-opacity="0.8"/>
<circle cx="138.1" cy="233.6" r="3.8" fill="#21918c" fill-opacity="0.8"/>
<circle cx="138.4" cy="235.5" r="3.8" fill="#21918c" fill-opacity="0.8"/>
<circle cx="138.6" cy="238.5" r="3.8" fill="#21918c" fill-opacity="0.8"/>
<circle cx="138.7" cy="232.8" r="3.8" fill="#21918c" fill-opacity="0.8"/>
<circle cx="138.8" cy="231.6" r="3.8" fill="#21918c" fill-opacity="0.8"/>
<circle cx="139.1" cy="238.5" r="3.8" fill="#21918c" fill-opacity="0.8"/>
<circle cx="139.2" cy="229.8" r="3.8" fill="#21918c" fill-opacity="0.8"/>
<circle cx="139.4" cy="247.8" r="3.8" fill="#21918c" fill-opacity="0.8"/>
<circle cx="139.6" cy="240.2" r="3.8" fill="#21918c" fill-opacity="0.8"/>
<circle cx="139.7" cy="232.5" r="3.8" fill="#21918c" fill-opacity="0.8"/>
<circle cx="140.0" cy="240.3" r="3.8" fill="#21918c" fill-opacity="0.8"/>
<circle cx="140.1" cy="241.4" r="3.8" fill="#21918c" fill-opacity="0.8"/>
<circle cx="140.3" cy="227.2" r="3.8" fill="#21918c" fill-opacity="0.8"/>
<circle cx="140.5" cy="230.3" r="3.8" fill="#21918c" fill-opacity="0.8"/>
<circle cx="140.6" cy="245.9" r="3.8" fill="#21918c" fill-opacity="0.8"/>
<circle cx="140.9" cy="232.0" r="3.8" fill="#21918c" fill-opacity="0.8"/>
<circle cx="141.0" cy="245.0" r="3.8" fill="#21918c" fill-opacity="0.8"/>
<circle cx="141.2" cy="242.9" r="3.8" fill="#21918c" fill-opacity="0.8"/>
<circle cx="141.5" cy="236.2" r="3.8" fill="#21918c" fill-opacity="0.8"/>
<circle cx="141.6" cy="241.0" r="3.8" fill="#21918c" fill-opacity="0.8"/>
<circle cx="141.9" cy="244.0" r="3.8" fill="#21918c" fill-opacity="0.8"/>
<circle cx="152.7" cy="229.4" r="3.8" fill="#21918c" fill-opacity="0.8"/>
<circle cx="153.5" cy="236.7" r="3.8" fill="#21918c" fill-opacity="0.8"/>
<circle cx="152.0" cy="233.0" r="3.8" fill="#21918c" fill-opacity="0.8"/>
<circle cx="148.0" cy="240.0" r="3.8" fill="#21918c" fill-opacity="0.8"/>
<circle cx="147.0" cy="230.0" r="3.8" fill="#21918c" fill-opacity="0.8"/>
<circle cx="145.0" cy="244.0" r="3.8" fill="#21918c" fill-opacity="0.8"/>
<circle cx="146.0" cy="233.0" r="3.8" fill="#21918c" fill-opacity="0.8"/>
<circle cx="144.0" cy="237.0" r="3.8" fill="#21918c" fill-opacity="0.8"/>
<circle cx="149.0" cy="235.0" r="3.8" fill="#21918c" fill-opacity="0.8"/>
<line x1="150.00" y1="264.70" x2="189.20" y2="264.70" stroke="#277f8e" stroke-width="1.2"/>
<circle cx="136.8" cy="256.6" r="3.8" fill="#277f8e" fill-opacity="0.8"/>
<circle cx="137.5" cy="271.5" r="3.8" fill="#277f8e" fill-opacity="0.8"/>
<circle cx="138.0" cy="258.5" r="3.8" fill="#277f8e" fill-opacity="0.8"/>
<circle cx="138.9" cy="272.3" r="3.8" fill="#277f8e" fill-opacity="0.8"/>
<circle cx="139.3" cy="275.1" r="3.8" fill="#277f8e" fill-opacity="0.8"/>
<circle cx="140.6" cy="273.3" r="3.8" fill="#277f8e" fill-opacity="0.8"/>
<circle cx="140.9" cy="266.2" r="3.8" fill="#277f8e" fill-opacity="0.8"/>
<circle cx="142.4" cy="255.7" r="3.8" fill="#277f8e" fill-opacity="0.8"/>
<circle cx="142.8" cy="257.9" r="3.8" fill="#277f8e" fill-opacity="0.8"/>
<circle cx="144.1" cy="262.7" r="3.8" fill="#277f8e" fill-opacity="0.8"/>
<circle cx="145.0" cy="259.2" r="3.8" fill="#277f8e" fill-opacity="0.8"/>
<circle cx="145.8" cy="270.8" r="3.8" fill="#277f8e" fill-opacity="0.8"/>
<circle cx="146.7" cy="261.6" r="3.8" fill="#277f8e" fill-opacity="0.8"/>
<circle cx="147.3" cy="262.4" r="3.8" fill="#277f8e" fill-opacity="0.8"/>
<circle cx="148.6" cy="254.8" r="3.8" fill="#277f8e" fill-opacity="0.8"/>
<circle cx="149.0" cy="274.1" r="3.8" fill="#277f8e" fill-opacity="0.8"/>
<circle cx="150.2" cy="275.6" r="3.8" fill="#277f8e" fill-opacity="0.8"/>
<circle cx="150.8" cy="269.3" r="3.8" fill="#277f8e" fill-opacity="0.8"/>
<circle cx="152.4" cy="269.2" r="3.8" fill="#277f8e" fill-opacity="0.8"/>
<circle cx="152.7" cy="270.5" r="3.8" fill="#277f8e" fill-opacity="0.8"/>
<circle cx="154.5" cy="265.1" r="3.8" fill="#277f8e" fill-opacity="0.8"/>
<circle cx="155.6" cy="260.5" r="3.8" fill="#277f8e" fill-opacity="0.8"/>
<circle cx="156.4" cy="257.6" r="3.8" fill="#277f8e" fill-opacity="0.8"/>
<circle cx="157.5" cy="264.7" r="3.8" fill="#277f8e" fill-opacity="0.8"/>
<circle cx="158.3" cy="260.2" r="3.8" fill="#277f8e" fill-opacity="0.8"/>
<circle cx="159.4" cy="274.7" r="3.8" fill="#277f8e" fill-opacity="0.8"/>
<circle cx="160.5" cy="266.8" r="3.8" fill="#277f8e" fill-opacity="0.8"/>
<circle cx="161.1" cy="268.5" r="3.8" fill="#277f8e" fill-opacity="0.8"/>
<circle cx="162.7" cy="254.3" r="3.8" fill="#277f8e" fill-opacity="0.8"/>
<circle cx="164.1" cy="270.1" r="3.8" fill="#277f8e" fill-opacity="0.8"/>
<circle cx="164.8" cy="261.0" r="3.8" fill="#277f8e" fill-opacity="0.8"/>
<circle cx="165.9" cy="265.6" r="3.8" fill="#277f8e" fill-opacity="0.8"/>
<circle cx="166.7" cy="272.5" r="3.8" fill="#277f8e" fill-opacity="0.8"/>
<circle cx="167.8" cy="256.0" r="3.8" fill="#277f8e" fill-opacity="0.8"/>
<circle cx="169.3" cy="273.4" r="3.8" fill="#277f8e" fill-opacity="0.8"/>
<circle cx="170.6" cy="264.1" r="3.8" fill="#277f8e" fill-opacity="0.8"/>
<circle cx="171.9" cy="263.9" r="3.8" fill="#277f8e" fill-opacity="0.8"/>
<circle cx="172.8" cy="267.7" r="3.8" fill="#277f8e" fill-opacity="0.8"/>
<circle cx="173.9" cy="263.2" r="3.8" fill="#277f8e" fill-opacity="0.8"/>
<circle cx="175.6" cy="267.2" r="3.8" fill="#277f8e" fill-opacity="0.8"/>
<circle cx="176.7" cy="259.9" r="3.8" fill="#277f8e" fill-opacity="0.8"/>
<circle cx="177.7" cy="257.2" r="3.8" fill="#277f8e" fill-opacity="0.8"/>
<circle cx="190.7" cy="259.6" r="3.8" fill="#277f8e" fill-opacity="0.8"/>
<circle cx="203.1" cy="264.4" r="3.8" fill="#277f8e" fill-opacity="0.8"/>
<circle cx="203.1" cy="264.4" r="3.8" fill="#277f8e" fill-opacity="0.8"/>
<circle cx="136.0" cy="283.1" r="3.8" fill="#2e6e8e" fill-opacity="0.8"/>
<circle cx="136.0" cy="298.1" r="3.8" fill="#2e6e8e" fill-opacity="0.8"/>
<circle cx="136.0" cy="299.4" r="3.8" fill="#2e6e8e" fill-opacity="0.8"/>
<circle cx="136.1" cy="301.7" r="3.8" fill="#2e6e8e" fill-opacity="0.8"/>
<circle cx="136.1" cy="281.4" r="3.8" fill="#2e6e8e" fill-opacity="0.8"/>
<circle cx="136.2" cy="293.7" r="3.8" fill="#2e6e8e" fill-opacity="0.8"/>
<circle cx="136.2" cy="292.6" r="3.8" fill="#2e6e8e" fill-opacity="0.8"/>
<circle cx="136.3" cy="293.1" r="3.8" fill="#2e6e8e" fill-opacity="0.8"/>
<circle cx="136.4" cy="288.1" r="3.8" fill="#2e6e8e" fill-opacity="0.8"/>
<circle cx="136.4" cy="282.8" r="3.8" fill="#2e6e8e" fill-opacity="0.8"/>
<circle cx="136.5" cy="294.3" r="3.8" fill="#2e6e8e" fill-opacity="0.8"/>
<circle cx="136.5" cy="295.0" r="3.8" fill="#2e6e8e" fill-opacity="0.8"/>
<circle cx="136.6" cy="300.4" r="3.8" fill="#2e6e8e" fill-opacity="0.8"/>
<circle cx="136.6" cy="299.7" r="3.8" fill="#2e6e8e" fill-opacity="0.8"/>
<circle cx="136.7" cy="291.8" r="3.8" fill="#2e6e8e" fill-opacity="0.8"/>
<circle cx="136.8" cy="297.3" r="3.8" fill="#2e6e8e" fill-opacity="0.8"/>
<circle cx="136.9" cy="302.7" r="3.8" fill="#2e6e8e" fill-opacity="0.8"/>
<circle cx="137.0" cy="284.0" r="3.8" fill="#2e6e8e" fill-opacity="0.8"/>
<circle cx="137.0" cy="294.5" r="3.8" fill="#2e6e8e" fill-opacity="0.8"/>
<circle cx="137.1" cy="282.0" r="3.8" fill="#2e6e8e" fill-opacity="0.8"/>
<circle cx="137.3" cy="286.7" r="3.8" fill="#2e6e8e" fill-opacity="0.8"/>
<circle cx="137.3" cy="298.6" r="3.8" fill="#2e6e8e" fill-opacity="0.8"/>
<circle cx="137.4" cy="285.0" r="3.8" fill="#2e6e8e" fill-opacity="0.8"/>
<circle cx="137.5" cy="296.9" r="3.8" fill="#2e6e8e" fill-opacity="0.8"/>
<circle cx="137.6" cy="290.7" r="3.8" fill="#2e6e8e" fill-opacity="0.8"/>
<circle cx="137.7" cy="296.3" r="3.8" fill="#2e6e8e" fill-opacity="0.8"/>
<circle cx="137.8" cy="301.5" r="3.8" fill="#2e6e8e" fill-opacity="0.8"/>
<circle cx="138.0" cy="284.5" r="3.8" fill="#2e6e8e" fill-opacity="0.8"/>
<circle cx="138.0" cy="288.9" r="3.8" fill="#2e6e8e" fill-opacity="0.8"/>
<circle cx="138.1" cy="299.0" r="3.8" fill="#2e6e8e" fill-opacity="0.8"/>
<circle cx="138.2" cy="302.1" r="3.8" fill="#2e6e8e" fill-opacity="0.8"/>
<circle cx="138.3" cy="285.7" r="3.8" fill="#2e6e8e" fill-opacity="0.8"/>
<circle cx="138.4" cy="295.4" r="3.8" fill="#2e6e8e" fill-opacity="0.8"/>
<circle cx="138.6" cy="289.6" r="3.8" fill="#2e6e8e" fill-opacity="0.8"/>
<circle cx="138.7" cy="291.3" r="3.8" fill="#2e6e8e" fill-opacity="0.8"/>
<circle cx="138.8" cy="300.9" r="3.8" fill="#2e6e8e" fill-opacity="0.8"/>
<circle cx="138.9" cy="289.4" r="3.8" fill="#2e6e8e" fill-opacity="0.8"/>
<circle cx="139.1" cy="292.2" r="3.8" fill="#2e6e8e" fill-opacity="0.8"/>
<circle cx="139.2" cy="283.5" r="3.8" fill="#2e6e8e" fill-opacity="0.8"/>
<circle cx="139.2" cy="288.4" r="3.8" fill="#2e6e8e" fill-opacity="0.8"/>
<circle cx="139.5" cy="286.5" r="3.8" fill="#2e6e8e" fill-opacity="0.8"/>
<circle cx="139.5" cy="290.3" r="3.8" fill="#2e6e8e" fill-opacity="0.8"/>
<circle cx="139.7" cy="296.5" r="3.8" fill="#2e6e8e" fill-opacity="0.8"/>
<circle cx="139.9" cy="285.3" r="3.8" fill="#2e6e8e" fill-opacity="0.8"/>
<circle cx="140.0" cy="287.2" r="3.8" fill="#2e6e8e" fill-opacity="0.8"/>
<circle cx="136.0" cy="321.2" r="3.8" fill="#365c8d" fill-opacity="0.8"/>
<circle cx="136.0" cy="315.1" r="3.8" fill="#365c8d" fill-opacity="0.8"/>
<circle cx="136.0" cy="309.4" r="3.8" fill="#365c8d" fill-opacity="0.8"/>
<circle cx="136.1" cy="317.7" r="3.8" fill="#365c8d" fill-opacity="0.8"/>
<circle cx="136.1" cy="320.5" r="3.8" fill="#365c8d" fill-opacity="0.8"/>
<circle cx="136.2" cy="310.5" r="3.8" fill="#365c8d" fill-opacity="0.8"/>
<circle cx="136.2" cy="320.6" r="3.8" fill="#365c8d" fill-opacity="0.8"/>
<circle cx="136.3" cy="329.1" r="3.8" fill="#365c8d" fill-opacity="0.8"/>
<circle cx="136.3" cy="327.2" r="3.8" fill="#365c8d" fill-opacity="0.8"/>
<circle cx="136.4" cy="319.4" r="3.8" fill="#365c8d" fill-opacity="0.8"/>
<circle cx="136.4" cy="314.2" r="3.8" fill="#365c8d" fill-opacity="0.8"/>
<circle cx="136.5" cy="316.2" r="3.8" fill="#365c8d" fill-opacity="0.8"/>
<circle cx="136.6" cy="325.8" r="3.8" fill="#365c8d" fill-opacity="0.8"/>
<circle cx="136.7" cy="326.3" r="3.8" fill="#365c8d" fill-opacity="0.8"/>
<circle cx="136.7" cy="313.0" r="3.8" fill="#365c8d" fill-opacity="0.8"/>
<circle cx="136.8" cy="323.5" r="3.8" fill="#365c8d" fill-opacity="0.8"/>
<circle cx="136.9" cy="314.7" r="3.8" fill="#365c8d" fill-opacity="0.8"/>
<circle cx="137.0" cy="323.4" r="3.8" fill="#365c8d" fill-opacity="0.8"/>
<circle cx="137.1" cy="313.5" r="3.8" fill="#365c8d" fill-opacity="0.8"/>
<circle cx="137.1" cy="319.7" r="3.8" fill="#365c8d" fill-opacity="0.8"/>
<circle cx="137.3" cy="325.0" r="3.8" fill="#365c8d" fill-opacity="0.8"/>
<circle cx="137.3" cy="327.5" r="3.8" fill="#365c8d" fill-opacity="0.8"/>
<circle cx="137.4" cy="312.5" r="3.8" fill="#365c8d" fill-opacity="0.8"/>
<circle cx="137.5" cy="311.3" r="3.8" fill="#365c8d" fill-opacity="0.8"/>
<circle cx="137.6" cy="308.7" r="3.8" fill="#365c8d" fill-opacity="0.8"/>
<circle cx="137.8" cy="324.2" r="3.8" fill="#365c8d" fill-opacity="0.8"/>
<circle cx="137.8" cy="328.1" r="3.8" fill="#365c8d" fill-opacity="0.8"/>
<circle cx="137.9" cy="329.9" r="3.8" fill="#365c8d" fill-opacity="0.8"/>
<circle cx="138.0" cy="322.4" r="3.8" fill="#365c8d" fill-opacity="0.8"/>
<circle cx="138.1" cy="322.8" r="3.8" fill="#365c8d" fill-opacity="0.8"/>
<circle cx="138.2" cy="318.3" r="3.8" fill="#365c8d" fill-opacity="0.8"/>
<circle cx="138.4" cy="317.2" r="3.8" fill="#365c8d" fill-opacity="0.8"/>
<circle cx="138.5" cy="326.5" r="3.8" fill="#365c8d" fill-opacity="0.8"/>
<circle cx="138.5" cy="324.5" r="3.8" fill="#365c8d" fill-opacity="0.8"/>
<circle cx="138.7" cy="322.0" r="3.8" fill="#365c8d" fill-opacity="0.8"/>
<circle cx="138.7" cy="317.0" r="3.8" fill="#365c8d" fill-opacity="0.8"/>
<circle cx="138.9" cy="310.3" r="3.8" fill="#365c8d" fill-opacity="0.8"/>
<circle cx="139.0" cy="329.5" r="3.8" fill="#365c8d" fill-opacity="0.8"/>
<circle cx="139.1" cy="319.0" r="3.8" fill="#365c8d" fill-opacity="0.8"/>
<circle cx="139.3" cy="312.3" r="3.8" fill="#365c8d" fill-opacity="0.8"/>
<circle cx="139.4" cy="309.6" r="3.8" fill="#365c8d" fill-opacity="0.8"/>
<circle cx="139.6" cy="328.5" r="3.8" fill="#365c8d" fill-opacity="0.8"/>
<circle cx="139.6" cy="315.6" r="3.8" fill="#365c8d" fill-opacity="0.8"/>
<circle cx="139.7" cy="316.6" r="3.8" fill="#365c8d" fill-opacity="0.8"/>
<circle cx="140.0" cy="311.8" r="3.8" fill="#365c8d" fill-opacity="0.8"/>
<circle cx="136.0" cy="343.7" r="3.8" fill="#3f4788" fill-opacity="0.8"/>
<circle cx="136.0" cy="355.5" r="3.8" fill="#3f4788" fill-opacity="0.8"/>
<circle cx="136.0" cy="336.0" r="3.8" fill="#3f4788" fill-opacity="0.8"/>
<circle cx="136.1" cy="344.8" r="3.8" fill="#3f4788" fill-opacity="0.8"/>
<circle cx="136.1" cy="351.4" r="3.8" fill="#3f4788" fill-opacity="0.8"/>
<circle cx="136.2" cy="340.5" r="3.8" fill="#3f4788" fill-opacity="0.8"/>
<circle cx="136.2" cy="337.3" r="3.8" fill="#3f4788" fill-opacity="0.8"/>
<circle cx="136.2" cy="348.3" r="3.8" fill="#3f4788" fill-opacity="0.8"/>
<circle cx="136.3" cy="336.7" r="3.8" fill="#3f4788" fill-opacity="0.8"/>
<circle cx="136.4" cy="354.4" r="3.8" fill="#3f4788" fill-opacity="0.8"/>
<circle cx="136.4" cy="351.3" r="3.8" fill="#3f4788" fill-opacity="0.8"/>
<circle cx="136.5" cy="349.2" r="3.8" fill="#3f4788" fill-opacity="0.8"/>
<circle cx="136.5" cy="357.0" r="3.8" fill="#3f4788" fill-opacity="0.8"/>
<circle cx="136.6" cy="346.3" r="3.8" fill="#3f4788" fill-opacity="0.8"/>
<circle cx="136.7" cy="350.5" r="3.8" fill="#3f4788" fill-opacity="0.8"/>
<circle cx="136.7" cy="352.5" r="3.8" fill="#3f4788" fill-opacity="0.8"/>
<circle cx="136.9" cy="341.1" r="3.8" fill="#3f4788" fill-opacity="0.8"/>
<circle cx="136.9" cy="341.5" r="3.8" fill="#3f4788" fill-opacity="0.8"/>
<circle cx="137.0" cy="352.9" r="3.8" fill="#3f4788" fill-opacity="0.8"/>
<circle cx="137.1" cy="353.5" r="3.8" fill="#3f4788" fill-opacity="0.8"/>
<circle cx="137.2" cy="338.1" r="3.8" fill="#3f4788" fill-opacity="0.8"/>
<circle cx="137.2" cy="343.0" r="3.8" fill="#3f4788" fill-opacity="0.8"/>
<circle cx="137.3" cy="339.4" r="3.8" fill="#3f4788" fill-opacity="0.8"/>
<circle cx="137.4" cy="356.7" r="3.8" fill="#3f4788" fill-opacity="0.8"/>
<circle cx="137.5" cy="342.1" r="3.8" fill="#3f4788" fill-opacity="0.8"/>
<circle cx="137.6" cy="354.3" r="3.8" fill="#3f4788" fill-opacity="0.8"/>
<circle cx="137.7" cy="344.1" r="3.8" fill="#3f4788" fill-opacity="0.8"/>
<circle cx="137.8" cy="344.4" r="3.8" fill="#3f4788" fill-opacity="0.8"/>
<circle cx="137.9" cy="349.9" r="3.8" fill="#3f4788" fill-opacity="0.8"/>
<circle cx="138.0" cy="352.2" r="3.8" fill="#3f4788" fill-opacity="0.8"/>
<circle cx="138.1" cy="340.0" r="3.8" fill="#3f4788" fill-opacity="0.8"/>
<circle cx="138.2" cy="345.5" r="3.8" fill="#3f4788" fill-opacity="0.8"/>
<circle cx="138.3" cy="342.5" r="3.8" fill="#3f4788" fill-opacity="0.8"/>
<circle cx="138.4" cy="347.6" r="3.8" fill="#3f4788" fill-opacity="0.8"/>
<circle cx="138.6" cy="336.3" r="3.8" fill="#3f4788" fill-opacity="0.8"/>
<circle cx="138.6" cy="349.7" r="3.8" fill="#3f4788" fill-opacity="0.8"/>
<circle cx="138.7" cy="338.4" r="3.8" fill="#3f4788" fill-opacity="0.8"/>
<circle cx="138.9" cy="354.9" r="3.8" fill="#3f4788" fill-opacity="0.8"/>
<circle cx="139.0" cy="348.4" r="3.8" fill="#3f4788" fill-opacity="0.8"/>
<circle cx="139.1" cy="339.2" r="3.8" fill="#3f4788" fill-opacity="0.8"/>
<circle cx="139.2" cy="346.8" r="3.8" fill="#3f4788" fill-opacity="0.8"/>
<circle cx="139.3" cy="346.0" r="3.8" fill="#3f4788" fill-opacity="0.8"/>
<circle cx="139.5" cy="356.1" r="3.8" fill="#3f4788" fill-opacity="0.8"/>
<circle cx="142.5" cy="338.0" r="3.8" fill="#3f4788" fill-opacity="0.8"/>
<circle cx="142.5" cy="344.0" r="3.8" fill="#3f4788" fill-opacity="0.8"/>
<circle cx="136.0" cy="364.8" r="3.8" fill="#46327e" fill-opacity="0.8"/>
<circle cx="136.1" cy="365.6" r="3.8" fill="#46327e" fill-opacity="0.8"/>
<circle cx="136.1" cy="370.2" r="3.8" fill="#46327e" fill-opacity="0.8"/>
<circle cx="136.2" cy="376.7" r="3.8" fill="#46327e" fill-opacity="0.8"/>
<circle cx="136.2" cy="368.0" r="3.8" fill="#46327e" fill-opacity="0.8"/>
<circle cx="136.3" cy="384.4" r="3.8" fill="#46327e" fill-opacity="0.8"/>
<circle cx="136.3" cy="376.2" r="3.8" fill="#46327e" fill-opacity="0.8"/>
<circle cx="136.4" cy="380.7" r="3.8" fill="#46327e" fill-opacity="0.8"/>
<circle cx="136.5" cy="369.8" r="3.8" fill="#46327e" fill-opacity="0.8"/>
<circle cx="136.5" cy="378.2" r="3.8" fill="#46327e" fill-opacity="0.8"/>
<circle cx="136.6" cy="383.9" r="3.8" fill="#46327e" fill-opacity="0.8"/>
<circle cx="136.6" cy="371.2" r="3.8" fill="#46327e" fill-opacity="0.8"/>
<circle cx="136.7" cy="372.0" r="3.8" fill="#46327e" fill-opacity="0.8"/>
<circle cx="136.8" cy="365.8" r="3.8" fill="#46327e" fill-opacity="0.8"/>
<circle cx="136.9" cy="383.3" r="3.8" fill="#46327e" fill-opacity="0.8"/>
<circle cx="136.9" cy="367.4" r="3.8" fill="#46327e" fill-opacity="0.8"/>
<circle cx="137.0" cy="379.7" r="3.8" fill="#46327e" fill-opacity="0.8"/>
<circle cx="137.1" cy="379.9" r="3.8" fill="#46327e" fill-opacity="0.8"/>
<circle cx="137.2" cy="377.6" r="3.8" fill="#46327e" fill-opacity="0.8"/>
<circle cx="137.2" cy="371.5" r="3.8" fill="#46327e" fill-opacity="0.8"/>
<circle cx="137.3" cy="381.0" r="3.8" fill="#46327e" fill-opacity="0.8"/>
<circle cx="137.4" cy="383.0" r="3.8" fill="#46327e" fill-opacity="0.8"/>
<circle cx="137.5" cy="372.7" r="3.8" fill="#46327e" fill-opacity="0.8"/>
<circle cx="137.6" cy="374.5" r="3.8" fill="#46327e" fill-opacity="0.8"/>
<circle cx="137.6" cy="381.4" r="3.8" fill="#46327e" fill-opacity="0.8"/>
<circle cx="137.7" cy="364.1" r="3.8" fill="#46327e" fill-opacity="0.8"/>
<circle cx="137.8" cy="362.9" r="3.8" fill="#46327e" fill-opacity="0.8"/>
<circle cx="137.9" cy="363.6" r="3.8" fill="#46327e" fill-opacity="0.8"/>
<circle cx="138.0" cy="381.8" r="3.8" fill="#46327e" fill-opacity="0.8"/>
<circle cx="138.0" cy="368.7" r="3.8" fill="#46327e" fill-opacity="0.8"/>
<circle cx="138.1" cy="367.1" r="3.8" fill="#46327e" fill-opacity="0.8"/>
<circle cx="138.2" cy="370.6" r="3.8" fill="#46327e" fill-opacity="0.8"/>
<circle cx="138.3" cy="364.5" r="3.8" fill="#46327e" fill-opacity="0.8"/>
<circle cx="138.4" cy="373.7" r="3.8" fill="#46327e" fill-opacity="0.8"/>
<circle cx="138.5" cy="366.4" r="3.8" fill="#46327e" fill-opacity="0.8"/>
<circle cx="138.6" cy="378.6" r="3.8" fill="#46327e" fill-opacity="0.8"/>
<circle cx="138.6" cy="375.0" r="3.8" fill="#46327e" fill-opacity="0.8"/>
<circle cx="138.7" cy="368.5" r="3.8" fill="#46327e" fill-opacity="0.8"/>
<circle cx="138.8" cy="369.2" r="3.8" fill="#46327e" fill-opacity="0.8"/>
<circle cx="138.9" cy="377.0" r="3.8" fill="#46327e" fill-opacity="0.8"/>
<circle cx="139.0" cy="375.6" r="3.8" fill="#46327e" fill-opacity="0.8"/>
<circle cx="139.1" cy="373.4" r="3.8" fill="#46327e" fill-opacity="0.8"/>
<circle cx="139.2" cy="378.8" r="3.8" fill="#46327e" fill-opacity="0.8"/>
<circle cx="139.3" cy="374.2" r="3.8" fill="#46327e" fill-opacity="0.8"/>
<circle cx="139.3" cy="382.1" r="3.8" fill="#46327e" fill-opacity="0.8"/>
<circle cx="136.4" cy="408.4" r="3.8" fill="#481b6d" fill-opacity="0.8"/>
<circle cx="136.5" cy="403.8" r="3.8" fill="#481b6d" fill-opacity="0.8"/>
<circle cx="136.5" cy="395.8" r="3.8" fill="#481b6d" fill-opacity="0.8"/>
<circle cx="136.6" cy="390.4" r="3.8" fill="#481b6d" fill-opacity="0.8"/>
<circle cx="136.6" cy="391.4" r="3.8" fill="#481b6d" fill-opacity="0.8"/>
<circle cx="136.7" cy="396.7" r="3.8" fill="#481b6d" fill-opacity="0.8"/>
<circle cx="136.7" cy="399.1" r="3.8" fill="#481b6d" fill-opacity="0.8"/>
<circle cx="136.8" cy="410.1" r="3.8" fill="#481b6d" fill-opacity="0.8"/>
<circle cx="136.9" cy="401.0" r="3.8" fill="#481b6d" fill-opacity="0.8"/>
<circle cx="136.9" cy="392.2" r="3.8" fill="#481b6d" fill-opacity="0.8"/>
<circle cx="137.0" cy="399.9" r="3.8" fill="#481b6d" fill-opacity="0.8"/>
<circle cx="137.1" cy="392.7" r="3.8" fill="#481b6d" fill-opacity="0.8"/>
<circle cx="137.1" cy="402.3" r="3.8" fill="#481b6d" fill-opacity="0.8"/>
<circle cx="137.2" cy="393.7" r="3.8" fill="#481b6d" fill-opacity="0.8"/>
<circle cx="137.3" cy="409.4" r="3.8" fill="#481b6d" fill-opacity="0.8"/>
<circle cx="137.3" cy="395.6" r="3.8" fill="#481b6d" fill-opacity="0.8"/>
<circle cx="137.5" cy="399.4" r="3.8" fill="#481b6d" fill-opacity="0.8"/>
<circle cx="137.5" cy="407.7" r="3.8" fill="#481b6d" fill-opacity="0.8"/>
<circle cx="137.6" cy="390.7" r="3.8" fill="#481b6d" fill-opacity="0.8"/>
<circle cx="137.7" cy="403.1" r="3.8" fill="#481b6d" fill-opacity="0.8"/>
<circle cx="137.8" cy="407.0" r="3.8" fill="#481b6d" fill-opacity="0.8"/>
<circle cx="137.8" cy="410.5" r="3.8" fill="#481b6d" fill-opacity="0.8"/>
<circle cx="138.0" cy="394.8" r="3.8" fill="#481b6d" fill-opacity="0.8"/>
<circle cx="138.0" cy="407.8" r="3.8" fill="#481b6d" fill-opacity="0.8"/>
<circle cx="138.1" cy="409.2" r="3.8" fill="#481b6d" fill-opacity="0.8"/>
<circle cx="138.2" cy="406.3" r="3.8" fill="#481b6d" fill-opacity="0.8"/>
<circle cx="138.2" cy="404.0" r="3.8" fill="#481b6d" fill-opacity="0.8"/>
<circle cx="138.3" cy="398.5" r="3.8" fill="#481b6d" fill-opacity="0.8"/>
<circle cx="138.5" cy="398.2" r="3.8" fill="#481b6d" fill-opacity="0.8"/>
<circle cx="138.5" cy="401.7" r="3.8" fill="#481b6d" fill-opacity="0.8"/>
<circle cx="138.6" cy="397.5" r="3.8" fill="#481b6d" fill-opacity="0.8"/>
<circle cx="138.7" cy="406.4" r="3.8" fill="#481b6d" fill-opacity="0.8"/>
<circle cx="138.7" cy="401.1" r="3.8" fill="#481b6d" fill-opacity="0.8"/>
<circle cx="138.9" cy="410.8" r="3.8" fill="#481b6d" fill-opacity="0.8"/>
<circle cx="139.0" cy="411.2" r="3.8" fill="#481b6d" fill-opacity="0.8"/>
<circle cx="139.1" cy="393.9" r="3.8" fill="#481b6d" fill-opacity="0.8"/>
<circle cx="139.1" cy="402.9" r="3.8" fill="#481b6d" fill-opacity="0.8"/>
<circle cx="139.2" cy="396.6" r="3.8" fill="#481b6d" fill-opacity="0.8"/>
<circle cx="139.3" cy="390.9" r="3.8" fill="#481b6d" fill-opacity="0.8"/>
<circle cx="139.4" cy="394.6" r="3.8" fill="#481b6d" fill-opacity="0.8"/>
<circle cx="139.5" cy="405.3" r="3.8" fill="#481b6d" fill-opacity="0.8"/>
<circle cx="139.5" cy="404.7" r="3.8" fill="#481b6d" fill-opacity="0.8"/>
<circle cx="139.7" cy="405.6" r="3.8" fill="#481b6d" fill-opacity="0.8"/>
<circle cx="139.8" cy="393.0" r="3.8" fill="#481b6d" fill-opacity="0.8"/>
<circle cx="139.9" cy="400.4" r="3.8" fill="#481b6d" fill-opacity="0.8"/>
<circle cx="141.8" cy="420.5" r="3.8" fill="#440154" fill-opacity="0.8"/>
<circle cx="141.9" cy="424.8" r="3.8" fill="#440154" fill-opacity="0.8"/>
<circle cx="142.3" cy="429.5" r="3.8" fill="#440154" fill-opacity="0.8"/>
<circle cx="142.5" cy="418.4" r="3.8" fill="#440154" fill-opacity="0.8"/>
<circle cx="142.7" cy="430.9" r="3.8" fill="#440154" fill-opacity="0.8"/>
<circle cx="143.0" cy="418.0" r="3.8" fill="#440154" fill-opacity="0.8"/>
<circle cx="143.4" cy="420.3" r="3.8" fill="#440154" fill-opacity="0.8"/>
<circle cx="143.6" cy="425.7" r="3.8" fill="#440154" fill-opacity="0.8"/>
<circle cx="144.0" cy="428.0" r="3.8" fill="#440154" fill-opacity="0.8"/>
<circle cx="144.1" cy="437.4" r="3.8" fill="#440154" fill-opacity="0.8"/>
<circle cx="144.6" cy="434.8" r="3.8" fill="#440154" fill-opacity="0.8"/>
<circle cx="144.8" cy="421.6" r="3.8" fill="#440154" fill-opacity="0.8"/>
<circle cx="145.0" cy="437.7" r="3.8" fill="#440154" fill-opacity="0.8"/>
<circle cx="145.3" cy="425.3" r="3.8" fill="#440154" fill-opacity="0.8"/>
<circle cx="145.7" cy="430.2" r="3.8" fill="#440154" fill-opacity="0.8"/>
<circle cx="146.0" cy="434.3" r="3.8" fill="#440154" fill-opacity="0.8"/>
<circle cx="146.0" cy="421.1" r="3.8" fill="#440154" fill-opacity="0.8"/>
<circle cx="146.5" cy="424.2" r="3.8" fill="#440154" fill-opacity="0.8"/>
<circle cx="146.8" cy="422.8" r="3.8" fill="#440154" fill-opacity="0.8"/>
<circle cx="147.0" cy="431.5" r="3.8" fill="#440154" fill-opacity="0.8"/>
<circle cx="147.3" cy="423.4" r="3.8" fill="#440154" fill-opacity="0.8"/>
<circle cx="147.5" cy="432.4" r="3.8" fill="#440154" fill-opacity="0.8"/>
<circle cx="147.9" cy="433.8" r="3.8" fill="#440154" fill-opacity="0.8"/>
<circle cx="148.2" cy="432.8" r="3.8" fill="#440154" fill-opacity="0.8"/>
<circle cx="148.4" cy="422.4" r="3.8" fill="#440154" fill-opacity="0.8"/>
<circle cx="148.6" cy="433.2" r="3.8" fill="#440154" fill-opacity="0.8"/>
<circle cx="149.1" cy="429.1" r="3.8" fill="#440154" fill-opacity="0.8"/>
<circle cx="149.3" cy="419.2" r="3.8" fill="#440154" fill-opacity="0.8"/>
<circle cx="149.6" cy="436.4" r="3.8" fill="#440154" fill-opacity="0.8"/>
<circle cx="149.8" cy="427.5" r="3.8" fill="#440154" fill-opacity="0.8"/>
<circle cx="150.1" cy="424.6" r="3.8" fill="#440154" fill-opacity="0.8"/>
<circle cx="150.4" cy="430.5" r="3.8" fill="#440154" fill-opacity="0.8"/>
<circle cx="150.6" cy="428.1" r="3.8" fill="#440154" fill-opacity="0.8"/>
<circle cx="150.8" cy="426.7" r="3.8" fill="#440154" fill-opacity="0.8"/>
<circle cx="151.3" cy="437.9" r="3.8" fill="#440154" fill-opacity="0.8"/>
<circle cx="151.4" cy="432.2" r="3.8" fill="#440154" fill-opacity="0.8"/>
<circle cx="151.8" cy="422.1" r="3.8" fill="#440154" fill-opacity="0.8"/>
<circle cx="152.0" cy="435.5" r="3.8" fill="#440154" fill-opacity="0.8"/>
<circle cx="152.3" cy="426.1" r="3.8" fill="#440154" fill-opacity="0.8"/>
<circle cx="152.6" cy="428.7" r="3.8" fill="#440154" fill-opacity="0.8"/>
<circle cx="153.0" cy="419.5" r="3.8" fill="#440154" fill-opacity="0.8"/>
<circle cx="153.3" cy="435.7" r="3.8" fill="#440154" fill-opacity="0.8"/>
<circle cx="153.7" cy="436.6" r="3.8" fill="#440154" fill-opacity="0.8"/>
<circle cx="153.7" cy="438.4" r="3.8" fill="#440154" fill-opacity="0.8"/>
<circle cx="154.0" cy="418.9" r="3.8" fill="#440154" fill-opacity="0.8"/>
<circle cx="154.4" cy="417.5" r="3.8" fill="#440154" fill-opacity="0.8"/>
<circle cx="159.5" cy="430.0" r="3.8" fill="#440154" fill-opacity="0.8"/>
<circle cx="138.0" cy="430.5" r="3.8" fill="#440154" fill-opacity="0.8"/>
<circle cx="156.0" cy="417.0" r="3.8" fill="#440154" fill-opacity="0.8"/>
<circle cx="158.0" cy="434.0" r="3.8" fill="#440154" fill-opacity="0.8"/>
<line x1="435.70" y1="47.55" x2="463.00" y2="47.55" stroke="#fde725" stroke-width="1.5"/>
<line x1="483.80" y1="47.55" x2="503.50" y2="47.55" stroke="#fde725" stroke-width="1.5"/>
<rect x="463.00" y="37.70" width="20.80" height="19.70" fill="none" stroke="#fde725" stroke-width="1.5"/>
<line x1="471.70" y1="37.70" x2="471.70" y2="57.40" stroke="#fde725" stroke-width="2.8"/>
<circle cx="437.4" cy="50.8" r="3.8" fill="#fde725" fill-opacity="0.8"/>
<circle cx="447.7" cy="41.0" r="3.8" fill="#fde725" fill-opacity="0.8"/>
<circle cx="452.1" cy="48.6" r="3.8" fill="#fde725" fill-opacity="0.8"/>
<circle cx="458.6" cy="44.2" r="3.8" fill="#fde725" fill-opacity="0.8"/>
<circle cx="463.0" cy="39.9" r="3.8" fill="#fde725" fill-opacity="0.8"/>
<circle cx="466.3" cy="37.7" r="3.8" fill="#fde725" fill-opacity="0.8"/>
<circle cx="470.7" cy="38.8" r="3.8" fill="#fde725" fill-opacity="0.8"/>
<circle cx="472.9" cy="41.0" r="3.8" fill="#fde725" fill-opacity="0.8"/>
<circle cx="468.5" cy="57.4" r="3.8" fill="#fde725" fill-opacity="0.8"/>
<circle cx="464.1" cy="51.9" r="3.8" fill="#fde725" fill-opacity="0.8"/>
<circle cx="475.1" cy="53.0" r="3.8" fill="#fde725" fill-opacity="0.8"/>
<circle cx="480.5" cy="42.0" r="3.8" fill="#fde725" fill-opacity="0.8"/>
<circle cx="483.8" cy="45.3" r="3.8" fill="#fde725" fill-opacity="0.8"/>
<circle cx="490.4" cy="39.9" r="3.8" fill="#fde725" fill-opacity="0.8"/>
<circle cx="493.7" cy="53.0" r="3.8" fill="#fde725" fill-opacity="0.8"/>
<circle cx="501.3" cy="47.5" r="3.8" fill="#fde725" fill-opacity="0.8"/>
<circle cx="455.4" cy="45.3" r="3.8" fill="#fde725" fill-opacity="0.8"/>
<circle cx="460.8" cy="47.5" r="3.8" fill="#fde725" fill-opacity="0.8"/>
<circle cx="467.4" cy="49.7" r="3.8" fill="#fde725" fill-opacity="0.8"/>
<circle cx="478.4" cy="49.7" r="3.8" fill="#fde725" fill-opacity="0.8"/>
<circle cx="487.1" cy="39.9" r="3.8" fill="#fde725" fill-opacity="0.8"/>
<circle cx="468.5" cy="44.2" r="3.8" fill="#fde725" fill-opacity="0.8"/>
<circle cx="470.0" cy="53.0" r="3.8" fill="#fde725" fill-opacity="0.8"/>
<circle cx="474.0" cy="47.0" r="3.8" fill="#fde725" fill-opacity="0.8"/>
<circle cx="427.0" cy="65.2" r="3.8" fill="#d0e11c" fill-opacity="0.8"/>
<circle cx="427.0" cy="67.2" r="3.8" fill="#d0e11c" fill-opacity="0.8"/>
<circle cx="427.0" cy="69.1" r="3.8" fill="#d0e11c" fill-opacity="0.8"/>
<circle cx="427.0" cy="71.1" r="3.8" fill="#d0e11c" fill-opacity="0.8"/>
<circle cx="427.0" cy="73.0" r="3.8" fill="#d0e11c" fill-opacity="0.8"/>
<circle cx="427.0" cy="75.0" r="3.8" fill="#d0e11c" fill-opacity="0.8"/>
<circle cx="427.0" cy="77.0" r="3.8" fill="#d0e11c" fill-opacity="0.8"/>
<circle cx="427.0" cy="78.9" r="3.8" fill="#d0e11c" fill-opacity="0.8"/>
<circle cx="427.0" cy="80.9" r="3.8" fill="#d0e11c" fill-opacity="0.8"/>
<circle cx="427.0" cy="82.8" r="3.8" fill="#d0e11c" fill-opacity="0.8"/>
<circle cx="427.0" cy="84.8" r="3.8" fill="#d0e11c" fill-opacity="0.8"/>
<circle cx="426.6" cy="66.0" r="3.8" fill="#d0e11c" fill-opacity="0.8"/>
<circle cx="427.4" cy="72.0" r="3.8" fill="#d0e11c" fill-opacity="0.8"/>
<circle cx="426.8" cy="79.0" r="3.8" fill="#d0e11c" fill-opacity="0.8"/>
<circle cx="427.3" cy="84.5" r="3.8" fill="#d0e11c" fill-opacity="0.8"/>
<circle cx="426.5" cy="70.0" r="3.8" fill="#d0e11c" fill-opacity="0.8"/>
<circle cx="427.2" cy="76.0" r="3.8" fill="#d0e11c" fill-opacity="0.8"/>
<circle cx="432.5" cy="65.2" r="3.8" fill="#d0e11c" fill-opacity="0.8"/>
<circle cx="432.5" cy="75.0" r="3.8" fill="#d0e11c" fill-opacity="0.8"/>
<circle cx="431.0" cy="68.0" r="3.8" fill="#d0e11c" fill-opacity="0.8"/>
<circle cx="431.0" cy="80.0" r="3.8" fill="#d0e11c" fill-opacity="0.8"/>
<circle cx="420.2" cy="92.4" r="3.8" fill="#a0da39" fill-opacity="0.8"/>
<circle cx="420.7" cy="93.7" r="3.8" fill="#a0da39" fill-opacity="0.8"/>
<circle cx="420.2" cy="94.9" r="3.8" fill="#a0da39" fill-opacity="0.8"/>
<circle cx="420.7" cy="96.2" r="3.8" fill="#a0da39" fill-opacity="0.8"/>
<circle cx="420.2" cy="97.5" r="3.8" fill="#a0da39" fill-opacity="0.8"/>
<circle cx="420.7" cy="98.8" r="3.8" fill="#a0da39" fill-opacity="0.8"/>
<circle cx="420.2" cy="100.0" r="3.8" fill="#a0da39" fill-opacity="0.8"/>
<circle cx="420.7" cy="101.3" r="3.8" fill="#a0da39" fill-opacity="0.8"/>
<circle cx="420.2" cy="102.6" r="3.8" fill="#a0da39" fill-opacity="0.8"/>
<circle cx="420.7" cy="103.9" r="3.8" fill="#a0da39" fill-opacity="0.8"/>
<circle cx="420.2" cy="105.1" r="3.8" fill="#a0da39" fill-opacity="0.8"/>
<circle cx="420.7" cy="106.4" r="3.8" fill="#a0da39" fill-opacity="0.8"/>
<circle cx="420.2" cy="107.7" r="3.8" fill="#a0da39" fill-opacity="0.8"/>
<circle cx="420.7" cy="109.0" r="3.8" fill="#a0da39" fill-opacity="0.8"/>
<circle cx="420.2" cy="110.2" r="3.8" fill="#a0da39" fill-opacity="0.8"/>
<circle cx="420.7" cy="111.5" r="3.8" fill="#a0da39" fill-opacity="0.8"/>
<circle cx="420.4" cy="95.0" r="3.8" fill="#a0da39" fill-opacity="0.8"/>
<circle cx="420.3" cy="101.0" r="3.8" fill="#a0da39" fill-opacity="0.8"/>
<circle cx="420.5" cy="107.0" r="3.8" fill="#a0da39" fill-opacity="0.8"/>
<circle cx="420.2" cy="111.0" r="3.8" fill="#a0da39" fill-opacity="0.8"/>
<circle cx="420.4" cy="120.0" r="3.8" fill="#73d056" fill-opacity="0.8"/>
<circle cx="420.8" cy="121.5" r="3.8" fill="#73d056" fill-opacity="0.8"/>
<circle cx="421.1" cy="123.0" r="3.8" fill="#73d056" fill-opacity="0.8"/>
<circle cx="420.4" cy="124.4" r="3.8" fill="#73d056" fill-opacity="0.8"/>
<circle cx="420.8" cy="125.9" r="3.8" fill="#73d056" fill-opacity="0.8"/>
<circle cx="421.1" cy="127.4" r="3.8" fill="#73d056" fill-opacity="0.8"/>
<circle cx="420.4" cy="128.8" r="3.8" fill="#73d056" fill-opacity="0.8"/>
<circle cx="420.8" cy="130.3" r="3.8" fill="#73d056" fill-opacity="0.8"/>
<circle cx="421.1" cy="131.8" r="3.8" fill="#73d056" fill-opacity="0.8"/>
<circle cx="420.4" cy="133.3" r="3.8" fill="#73d056" fill-opacity="0.8"/>
<circle cx="420.8" cy="134.8" r="3.8" fill="#73d056" fill-opacity="0.8"/>
<circle cx="421.1" cy="136.2" r="3.8" fill="#73d056" fill-opacity="0.8"/>
<circle cx="420.4" cy="137.7" r="3.8" fill="#73d056" fill-opacity="0.8"/>
<circle cx="421.5" cy="124.0" r="3.8" fill="#73d056" fill-opacity="0.8"/>
<circle cx="421.6" cy="133.0" r="3.8" fill="#73d056" fill-opacity="0.8"/>
<circle cx="421.2" cy="137.5" r="3.8" fill="#73d056" fill-opacity="0.8"/>
<circle cx="420.8" cy="128.0" r="3.8" fill="#73d056" fill-opacity="0.8"/>
<circle cx="437.2" cy="129.3" r="3.8" fill="#73d056" fill-opacity="0.8"/>
<circle cx="437.2" cy="137.3" r="3.8" fill="#73d056" fill-opacity="0.8"/>
<circle cx="446.1" cy="120.9" r="3.8" fill="#73d056" fill-opacity="0.8"/>
<circle cx="446.1" cy="128.9" r="3.8" fill="#73d056" fill-opacity="0.8"/>
<circle cx="427.8" cy="147.1" r="3.8" fill="#4ac16d" fill-opacity="0.8"/>
<circle cx="435.3" cy="149.0" r="3.8" fill="#4ac16d" fill-opacity="0.8"/>
<circle cx="420.3" cy="154.6" r="3.8" fill="#4ac16d" fill-opacity="0.8"/>
<circle cx="426.9" cy="153.7" r="3.8" fill="#4ac16d" fill-opacity="0.8"/>
<circle cx="433.4" cy="159.3" r="3.8" fill="#4ac16d" fill-opacity="0.8"/>
<circle cx="424.1" cy="165.9" r="3.8" fill="#4ac16d" fill-opacity="0.8"/>
<circle cx="431.5" cy="164.9" r="3.8" fill="#4ac16d" fill-opacity="0.8"/>
<circle cx="427.8" cy="159.3" r="3.8" fill="#4ac16d" fill-opacity="0.8"/>
<circle cx="430.1" cy="153.7" r="3.8" fill="#4ac16d" fill-opacity="0.8"/>
<circle cx="424.0" cy="151.0" r="3.8" fill="#4ac16d" fill-opacity="0.8"/>
<circle cx="429.0" cy="150.0" r="3.8" fill="#4ac16d" fill-opacity="0.8"/>
<circle cx="423.0" cy="158.0" r="3.8" fill="#4ac16d" fill-opacity="0.8"/>
<circle cx="428.0" cy="162.0" r="3.8" fill="#4ac16d" fill-opacity="0.8"/>
<circle cx="432.0" cy="156.0" r="3.8" fill="#4ac16d" fill-opacity="0.8"/>
<circle cx="426.0" cy="156.0" r="3.8" fill="#4ac16d" fill-opacity="0.8"/>
<circle cx="430.0" cy="160.0" r="3.8" fill="#4ac16d" fill-opacity="0.8"/>
<circle cx="425.0" cy="162.0" r="3.8" fill="#4ac16d" fill-opacity="0.8"/>
<circle cx="421.5" cy="156.0" r="3.8" fill="#4ac16d" fill-opacity="0.8"/>
<line x1="461.40" y1="183.30" x2="491.50" y2="183.30" stroke="#2db27d" stroke-width="1.5"/>
<line x1="564.80" y1="183.30" x2="670.00" y2="183.30" stroke="#2db27d" stroke-width="1.5"/>
<rect x="491.50" y="173.20" width="73.30" height="20.20" fill="none" stroke="#2db27d" stroke-width="1.5"/>
<line x1="529.70" y1="173.20" x2="529.70" y2="193.40" stroke="#2db27d" stroke-width="2.8"/>
<circle cx="460.9" cy="177.6" r="3.8" fill="#2db27d" fill-opacity="0.8"/>
<circle cx="472.2" cy="177.6" r="3.8" fill="#2db27d" fill-opacity="0.8"/>
<circle cx="480.3" cy="175.0" r="3.8" fill="#2db27d" fill-opacity="0.8"/>
<circle cx="476.3" cy="185.7" r="3.8" fill="#2db27d" fill-opacity="0.8"/>
<circle cx="467.2" cy="193.0" r="3.8" fill="#2db27d" fill-opacity="0.8"/>
<circle cx="490.6" cy="178.7" r="3.8" fill="#2db27d" fill-opacity="0.8"/>
<circle cx="493.4" cy="185.1" r="3.8" fill="#2db27d" fill-opacity="0.8"/>
<circle cx="493.4" cy="190.9" r="3.8" fill="#2db27d" fill-opacity="0.8"/>
<circle cx="502.2" cy="193.4" r="3.8" fill="#2db27d" fill-opacity="0.8"/>
<circle cx="503.4" cy="176.9" r="3.8" fill="#2db27d" fill-opacity="0.8"/>
<circle cx="511.0" cy="175.2" r="3.8" fill="#2db27d" fill-opacity="0.8"/>
<circle cx="529.7" cy="178.1" r="3.8" fill="#2db27d" fill-opacity="0.8"/>
<circle cx="529.7" cy="182.5" r="3.8" fill="#2db27d" fill-opacity="0.8"/>
<circle cx="529.7" cy="187.8" r="3.8" fill="#2db27d" fill-opacity="0.8"/>
<circle cx="529.7" cy="189.5" r="3.8" fill="#2db27d" fill-opacity="0.8"/>
<circle cx="537.9" cy="174.1" r="3.8" fill="#2db27d" fill-opacity="0.8"/>
<circle cx="548.1" cy="181.1" r="3.8" fill="#2db27d" fill-opacity="0.8"/>
<circle cx="564.8" cy="173.4" r="3.8" fill="#2db27d" fill-opacity="0.8"/>
<circle cx="564.8" cy="177.3" r="3.8" fill="#2db27d" fill-opacity="0.8"/>
<circle cx="581.7" cy="177.5" r="3.8" fill="#2db27d" fill-opacity="0.8"/>
<circle cx="579.9" cy="181.7" r="3.8" fill="#2db27d" fill-opacity="0.8"/>
<circle cx="607.9" cy="183.8" r="3.8" fill="#2db27d" fill-opacity="0.8"/>
<circle cx="607.2" cy="188.7" r="3.8" fill="#2db27d" fill-opacity="0.8"/>
<circle cx="670.0" cy="183.8" r="3.8" fill="#2db27d" fill-opacity="0.8"/>
<circle cx="428.0" cy="200.6" r="3.8" fill="#1fa187" fill-opacity="0.8"/>
<circle cx="428.0" cy="203.0" r="3.8" fill="#1fa187" fill-opacity="0.8"/>
<circle cx="423.5" cy="210.4" r="3.8" fill="#1fa187" fill-opacity="0.8"/>
<circle cx="434.8" cy="207.0" r="3.8" fill="#1fa187" fill-opacity="0.8"/>
<circle cx="435.6" cy="210.8" r="3.8" fill="#1fa187" fill-opacity="0.8"/>
<circle cx="422.8" cy="216.8" r="3.8" fill="#1fa187" fill-opacity="0.8"/>
<circle cx="429.5" cy="216.8" r="3.8" fill="#1fa187" fill-opacity="0.8"/>
<circle cx="435.6" cy="220.6" r="3.8" fill="#1fa187" fill-opacity="0.8"/>
<circle cx="431.1" cy="221.0" r="3.8" fill="#1fa187" fill-opacity="0.8"/>
<circle cx="427.3" cy="210.8" r="3.8" fill="#1fa187" fill-opacity="0.8"/>
<circle cx="427.3" cy="205.5" r="3.8" fill="#1fa187" fill-opacity="0.8"/>
<circle cx="432.6" cy="214.6" r="3.8" fill="#1fa187" fill-opacity="0.8"/>
<circle cx="425.0" cy="213.0" r="3.8" fill="#1fa187" fill-opacity="0.8"/>
<circle cx="430.0" cy="209.0" r="3.8" fill="#1fa187" fill-opacity="0.8"/>
<circle cx="426.0" cy="219.0" r="3.8" fill="#1fa187" fill-opacity="0.8"/>
<circle cx="433.0" cy="218.0" r="3.8" fill="#1fa187" fill-opacity="0.8"/>
<circle cx="424.0" cy="208.0" r="3.8" fill="#1fa187" fill-opacity="0.8"/>
<circle cx="429.0" cy="213.0" r="3.8" fill="#1fa187" fill-opacity="0.8"/>
<circle cx="422.0" cy="227.3" r="3.8" fill="#21918c" fill-opacity="0.8"/>
<circle cx="426.5" cy="227.3" r="3.8" fill="#21918c" fill-opacity="0.8"/>
<circle cx="429.5" cy="233.4" r="3.8" fill="#21918c" fill-opacity="0.8"/>
<circle cx="420.5" cy="237.1" r="3.8" fill="#21918c" fill-opacity="0.8"/>
<circle cx="425.0" cy="237.1" r="3.8" fill="#21918c" fill-opacity="0.8"/>
<circle cx="426.5" cy="243.1" r="3.8" fill="#21918c" fill-opacity="0.8"/>
<circle cx="420.5" cy="247.6" r="3.8" fill="#21918c" fill-opacity="0.8"/>
<circle cx="423.5" cy="246.1" r="3.8" fill="#21918c" fill-opacity="0.8"/>
<circle cx="421.3" cy="242.4" r="3.8" fill="#21918c" fill-opacity="0.8"/>
<circle cx="424.3" cy="231.1" r="3.8" fill="#21918c" fill-opacity="0.8"/>
<circle cx="423.0" cy="233.0" r="3.8" fill="#21918c" fill-opacity="0.8"/>
<circle cx="421.0" cy="232.0" r="3.8" fill="#21918c" fill-opacity="0.8"/>
<circle cx="424.0" cy="240.0" r="3.8" fill="#21918c" fill-opacity="0.8"/>
<circle cx="422.0" cy="244.0" r="3.8" fill="#21918c" fill-opacity="0.8"/>
<circle cx="427.0" cy="238.0" r="3.8" fill="#21918c" fill-opacity="0.8"/>
<circle cx="425.0" cy="230.0" r="3.8" fill="#21918c" fill-opacity="0.8"/>
<circle cx="426.9" cy="255.9" r="3.8" fill="#277f8e" fill-opacity="0.8"/>
<circle cx="426.9" cy="258.0" r="3.8" fill="#277f8e" fill-opacity="0.8"/>
<circle cx="422.0" cy="264.2" r="3.8" fill="#277f8e" fill-opacity="0.8"/>
<circle cx="427.3" cy="264.2" r="3.8" fill="#277f8e" fill-opacity="0.8"/>
<circle cx="437.8" cy="266.1" r="3.8" fill="#277f8e" fill-opacity="0.8"/>
<circle cx="434.8" cy="263.4" r="3.8" fill="#277f8e" fill-opacity="0.8"/>
<circle cx="423.5" cy="270.2" r="3.8" fill="#277f8e" fill-opacity="0.8"/>
<circle cx="429.5" cy="270.2" r="3.8" fill="#277f8e" fill-opacity="0.8"/>
<circle cx="425.0" cy="275.5" r="3.8" fill="#277f8e" fill-opacity="0.8"/>
<circle cx="422.8" cy="276.5" r="3.8" fill="#277f8e" fill-opacity="0.8"/>
<circle cx="425.0" cy="267.0" r="3.8" fill="#277f8e" fill-opacity="0.8"/>
<circle cx="430.0" cy="266.0" r="3.8" fill="#277f8e" fill-opacity="0.8"/>
<circle cx="432.0" cy="265.0" r="3.8" fill="#277f8e" fill-opacity="0.8"/>
<circle cx="424.0" cy="262.0" r="3.8" fill="#277f8e" fill-opacity="0.8"/>
<circle cx="426.0" cy="272.0" r="3.8" fill="#277f8e" fill-opacity="0.8"/>
<circle cx="431.0" cy="268.0" r="3.8" fill="#277f8e" fill-opacity="0.8"/>
<circle cx="427.0" cy="261.0" r="3.8" fill="#277f8e" fill-opacity="0.8"/>
<circle cx="423.0" cy="273.0" r="3.8" fill="#277f8e" fill-opacity="0.8"/>
<circle cx="422.8" cy="283.5" r="3.8" fill="#2e6e8e" fill-opacity="0.8"/>
<circle cx="420.5" cy="288.0" r="3.8" fill="#2e6e8e" fill-opacity="0.8"/>
<circle cx="425.0" cy="287.0" r="3.8" fill="#2e6e8e" fill-opacity="0.8"/>
<circle cx="428.0" cy="290.0" r="3.8" fill="#2e6e8e" fill-opacity="0.8"/>
<circle cx="432.1" cy="291.7" r="3.8" fill="#2e6e8e" fill-opacity="0.8"/>
<circle cx="430.0" cy="289.0" r="3.8" fill="#2e6e8e" fill-opacity="0.8"/>
<circle cx="421.0" cy="293.0" r="3.8" fill="#2e6e8e" fill-opacity="0.8"/>
<circle cx="424.0" cy="294.0" r="3.8" fill="#2e6e8e" fill-opacity="0.8"/>
<circle cx="427.0" cy="295.0" r="3.8" fill="#2e6e8e" fill-opacity="0.8"/>
<circle cx="420.5" cy="298.0" r="3.8" fill="#2e6e8e" fill-opacity="0.8"/>
<circle cx="423.5" cy="300.0" r="3.8" fill="#2e6e8e" fill-opacity="0.8"/>
<circle cx="426.0" cy="299.0" r="3.8" fill="#2e6e8e" fill-opacity="0.8"/>
<circle cx="421.5" cy="301.0" r="3.8" fill="#2e6e8e" fill-opacity="0.8"/>
<circle cx="425.5" cy="291.0" r="3.8" fill="#2e6e8e" fill-opacity="0.8"/>
<circle cx="422.0" cy="290.5" r="3.8" fill="#2e6e8e" fill-opacity="0.8"/>
<circle cx="430.6" cy="301.6" r="3.8" fill="#2e6e8e" fill-opacity="0.8"/>
<circle cx="420.5" cy="309.7" r="3.8" fill="#365c8d" fill-opacity="0.8"/>
<circle cx="420.9" cy="310.9" r="3.8" fill="#365c8d" fill-opacity="0.8"/>
<circle cx="420.5" cy="312.0" r="3.8" fill="#365c8d" fill-opacity="0.8"/>
<circle cx="420.9" cy="313.2" r="3.8" fill="#365c8d" fill-opacity="0.8"/>
<circle cx="420.5" cy="314.3" r="3.8" fill="#365c8d" fill-opacity="0.8"/>
<circle cx="420.9" cy="315.5" r="3.8" fill="#365c8d" fill-opacity="0.8"/>
<circle cx="420.5" cy="316.6" r="3.8" fill="#365c8d" fill-opacity="0.8"/>
<circle cx="420.9" cy="317.8" r="3.8" fill="#365c8d" fill-opacity="0.8"/>
<circle cx="420.5" cy="318.9" r="3.8" fill="#365c8d" fill-opacity="0.8"/>
<circle cx="420.9" cy="320.1" r="3.8" fill="#365c8d" fill-opacity="0.8"/>
<circle cx="420.5" cy="321.2" r="3.8" fill="#365c8d" fill-opacity="0.8"/>
<circle cx="420.9" cy="322.4" r="3.8" fill="#365c8d" fill-opacity="0.8"/>
<circle cx="420.5" cy="323.5" r="3.8" fill="#365c8d" fill-opacity="0.8"/>
<circle cx="420.9" cy="324.7" r="3.8" fill="#365c8d" fill-opacity="0.8"/>
<circle cx="420.5" cy="325.8" r="3.8" fill="#365c8d" fill-opacity="0.8"/>
<circle cx="420.9" cy="327.0" r="3.8" fill="#365c8d" fill-opacity="0.8"/>
<circle cx="420.8" cy="312.0" r="3.8" fill="#365c8d" fill-opacity="0.8"/>
<circle cx="420.6" cy="318.0" r="3.8" fill="#365c8d" fill-opacity="0.8"/>
<circle cx="420.9" cy="324.0" r="3.8" fill="#365c8d" fill-opacity="0.8"/>
<circle cx="420.5" cy="328.0" r="3.8" fill="#365c8d" fill-opacity="0.8"/>
<circle cx="420.5" cy="337.4" r="3.8" fill="#3f4788" fill-opacity="0.8"/>
<circle cx="421.1" cy="338.6" r="3.8" fill="#3f4788" fill-opacity="0.8"/>
<circle cx="420.5" cy="339.8" r="3.8" fill="#3f4788" fill-opacity="0.8"/>
<circle cx="421.1" cy="341.0" r="3.8" fill="#3f4788" fill-opacity="0.8"/>
<circle cx="420.5" cy="342.2" r="3.8" fill="#3f4788" fill-opacity="0.8"/>
<circle cx="421.1" cy="343.4" r="3.8" fill="#3f4788" fill-opacity="0.8"/>
<circle cx="420.5" cy="344.6" r="3.8" fill="#3f4788" fill-opacity="0.8"/>
<circle cx="421.1" cy="345.8" r="3.8" fill="#3f4788" fill-opacity="0.8"/>
<circle cx="420.5" cy="347.0" r="3.8" fill="#3f4788" fill-opacity="0.8"/>
<circle cx="421.1" cy="348.2" r="3.8" fill="#3f4788" fill-opacity="0.8"/>
<circle cx="420.5" cy="349.4" r="3.8" fill="#3f4788" fill-opacity="0.8"/>
<circle cx="421.1" cy="350.6" r="3.8" fill="#3f4788" fill-opacity="0.8"/>
<circle cx="420.5" cy="351.8" r="3.8" fill="#3f4788" fill-opacity="0.8"/>
<circle cx="421.1" cy="353.0" r="3.8" fill="#3f4788" fill-opacity="0.8"/>
<circle cx="420.5" cy="354.2" r="3.8" fill="#3f4788" fill-opacity="0.8"/>
<circle cx="421.1" cy="355.4" r="3.8" fill="#3f4788" fill-opacity="0.8"/>
<circle cx="421.0" cy="340.0" r="3.8" fill="#3f4788" fill-opacity="0.8"/>
<circle cx="421.4" cy="346.0" r="3.8" fill="#3f4788" fill-opacity="0.8"/>
<circle cx="420.7" cy="351.0" r="3.8" fill="#3f4788" fill-opacity="0.8"/>
<circle cx="421.2" cy="355.0" r="3.8" fill="#3f4788" fill-opacity="0.8"/>
<circle cx="420.4" cy="365.2" r="3.8" fill="#46327e" fill-opacity="0.8"/>
<circle cx="421.0" cy="366.4" r="3.8" fill="#46327e" fill-opacity="0.8"/>
<circle cx="421.6" cy="367.5" r="3.8" fill="#46327e" fill-opacity="0.8"/>
<circle cx="420.4" cy="368.7" r="3.8" fill="#46327e" fill-opacity="0.8"/>
<circle cx="421.0" cy="369.8" r="3.8" fill="#46327e" fill-opacity="0.8"/>
<circle cx="421.6" cy="371.0" r="3.8" fill="#46327e" fill-opacity="0.8"/>
<circle cx="420.4" cy="372.1" r="3.8" fill="#46327e" fill-opacity="0.8"/>
<circle cx="421.0" cy="373.3" r="3.8" fill="#46327e" fill-opacity="0.8"/>
<circle cx="421.6" cy="374.4" r="3.8" fill="#46327e" fill-opacity="0.8"/>
<circle cx="420.4" cy="375.6" r="3.8" fill="#46327e" fill-opacity="0.8"/>
<circle cx="421.0" cy="376.7" r="3.8" fill="#46327e" fill-opacity="0.8"/>
<circle cx="421.6" cy="377.9" r="3.8" fill="#46327e" fill-opacity="0.8"/>
<circle cx="420.4" cy="379.0" r="3.8" fill="#46327e" fill-opacity="0.8"/>
<circle cx="421.0" cy="380.2" r="3.8" fill="#46327e" fill-opacity="0.8"/>
<circle cx="421.6" cy="381.3" r="3.8" fill="#46327e" fill-opacity="0.8"/>
<circle cx="420.4" cy="382.5" r="3.8" fill="#46327e" fill-opacity="0.8"/>
<circle cx="422.8" cy="372.0" r="3.8" fill="#46327e" fill-opacity="0.8"/>
<circle cx="423.0" cy="380.0" r="3.8" fill="#46327e" fill-opacity="0.8"/>
<circle cx="421.5" cy="368.0" r="3.8" fill="#46327e" fill-opacity="0.8"/>
<circle cx="422.0" cy="383.0" r="3.8" fill="#46327e" fill-opacity="0.8"/>
<circle cx="420.8" cy="391.5" r="3.8" fill="#481b6d" fill-opacity="0.8"/>
<circle cx="421.4" cy="392.7" r="3.8" fill="#481b6d" fill-opacity="0.8"/>
<circle cx="422.0" cy="393.9" r="3.8" fill="#481b6d" fill-opacity="0.8"/>
<circle cx="420.8" cy="395.1" r="3.8" fill="#481b6d" fill-opacity="0.8"/>
<circle cx="421.4" cy="396.3" r="3.8" fill="#481b6d" fill-opacity="0.8"/>
<circle cx="422.0" cy="397.5" r="3.8" fill="#481b6d" fill-opacity="0.8"/>
<circle cx="420.8" cy="398.7" r="3.8" fill="#481b6d" fill-opacity="0.8"/>
<circle cx="421.4" cy="399.9" r="3.8" fill="#481b6d" fill-opacity="0.8"/>
<circle cx="422.0" cy="401.1" r="3.8" fill="#481b6d" fill-opacity="0.8"/>
<circle cx="420.8" cy="402.3" r="3.8" fill="#481b6d" fill-opacity="0.8"/>
<circle cx="421.4" cy="403.5" r="3.8" fill="#481b6d" fill-opacity="0.8"/>
<circle cx="422.0" cy="404.7" r="3.8" fill="#481b6d" fill-opacity="0.8"/>
<circle cx="420.8" cy="405.9" r="3.8" fill="#481b6d" fill-opacity="0.8"/>
<circle cx="421.4" cy="407.1" r="3.8" fill="#481b6d" fill-opacity="0.8"/>
<circle cx="422.0" cy="408.3" r="3.8" fill="#481b6d" fill-opacity="0.8"/>
<circle cx="420.8" cy="409.5" r="3.8" fill="#481b6d" fill-opacity="0.8"/>
<circle cx="422.5" cy="395.0" r="3.8" fill="#481b6d" fill-opacity="0.8"/>
<circle cx="422.8" cy="404.0" r="3.8" fill="#481b6d" fill-opacity="0.8"/>
<circle cx="421.5" cy="400.0" r="3.8" fill="#481b6d" fill-opacity="0.8"/>
<circle cx="422.0" cy="409.0" r="3.8" fill="#481b6d" fill-opacity="0.8"/>
<circle cx="422.0" cy="418.6" r="3.8" fill="#440154" fill-opacity="0.8"/>
<circle cx="425.0" cy="418.6" r="3.8" fill="#440154" fill-opacity="0.8"/>
<circle cx="421.6" cy="424.0" r="3.8" fill="#440154" fill-opacity="0.8"/>
<circle cx="425.5" cy="423.0" r="3.8" fill="#440154" fill-opacity="0.8"/>
<circle cx="421.6" cy="430.0" r="3.8" fill="#440154" fill-opacity="0.8"/>
<circle cx="425.5" cy="430.0" r="3.8" fill="#440154" fill-opacity="0.8"/>
<circle cx="421.6" cy="436.0" r="3.8" fill="#440154" fill-opacity="0.8"/>
<circle cx="425.5" cy="437.0" r="3.8" fill="#440154" fill-opacity="0.8"/>
<circle cx="423.0" cy="439.0" r="3.8" fill="#440154" fill-opacity="0.8"/>
<circle cx="427.0" cy="433.0" r="3.8" fill="#440154" fill-opacity="0.8"/>
<circle cx="428.0" cy="427.0" r="3.8" fill="#440154" fill-opacity="0.8"/>
<circle cx="430.6" cy="418.3" r="3.8" fill="#440154" fill-opacity="0.8"/>
<circle cx="433.0" cy="422.0" r="3.8" fill="#440154" fill-opacity="0.8"/>
<circle cx="438.5" cy="427.6" r="3.8" fill="#440154" fill-opacity="0.8"/>
<circle cx="434.0" cy="428.0" r="3.8" fill="#440154" fill-opacity="0.8"/>
<circle cx="437.0" cy="438.3" r="3.8" fill="#440154" fill-opacity="0.8"/>
<circle cx="431.4" cy="439.7" r="3.8" fill="#440154" fill-opacity="0.8"/>
<circle cx="429.0" cy="437.0" r="3.8" fill="#440154" fill-opacity="0.8"/>
<circle cx="424.0" cy="426.0" r="3.8" fill="#440154" fill-opacity="0.8"/>
<circle cx="423.0" cy="433.0" r="3.8" fill="#440154" fill-opacity="0.8"/>
<rect x="124.00" y="508.20" width="273.00" height="26.55" fill="#fff" stroke="#262626" stroke-width="1.6"/>
<rect x="408.40" y="508.20" width="273.10" height="26.55" fill="#fff" stroke="#262626" stroke-width="1.6"/>
<path d="M123.0,673.4 L123.0,681.4 L397.7,681.4" fill="none" stroke="#000" stroke-width="1.8" stroke-linejoin="round"/>
<line x1="407.70" y1="681.40" x2="682.20" y2="681.40" stroke="#000" stroke-width="1.8"/>
<line x1="196.70" y1="681.40" x2="196.70" y2="685.90" stroke="#222" stroke-width="1.4"/>
<line x1="283.60" y1="681.40" x2="283.60" y2="685.90" stroke="#222" stroke-width="1.4"/>
<line x1="370.50" y1="681.40" x2="370.50" y2="685.90" stroke="#222" stroke-width="1.4"/>
<line x1="481.50" y1="681.40" x2="481.50" y2="685.90" stroke="#222" stroke-width="1.4"/>
<line x1="568.40" y1="681.40" x2="568.40" y2="685.90" stroke="#222" stroke-width="1.4"/>
<line x1="655.30" y1="681.40" x2="655.30" y2="685.90" stroke="#222" stroke-width="1.4"/>
<line x1="123.00" y1="534.75" x2="123.00" y2="674.40" stroke="#000" stroke-width="1.8"/>
<line x1="118.50" y1="608.20" x2="123.00" y2="608.20" stroke="#222" stroke-width="1.4"/>
<line x1="193.50" y1="608.40" x2="244.90" y2="608.40" stroke="#21918c" stroke-width="1.6"/>
<line x1="321.90" y1="608.40" x2="384.90" y2="608.40" stroke="#21918c" stroke-width="1.6"/>
<rect x="244.90" y="593.70" width="77.00" height="29.80" fill="none" stroke="#21918c" stroke-width="1.6"/>
<line x1="266.40" y1="593.70" x2="266.40" y2="623.50" stroke="#21918c" stroke-width="3.0"/>
<circle cx="219.2" cy="564.1" r="3.8" fill="#21918c" fill-opacity="0.8"/>
<circle cx="237.8" cy="568.0" r="3.8" fill="#21918c" fill-opacity="0.8"/>
<circle cx="295.0" cy="561.6" r="3.8" fill="#21918c" fill-opacity="0.8"/>
<circle cx="300.4" cy="567.7" r="3.8" fill="#21918c" fill-opacity="0.8"/>
<circle cx="311.7" cy="569.3" r="3.8" fill="#21918c" fill-opacity="0.8"/>
<circle cx="318.1" cy="572.5" r="3.8" fill="#21918c" fill-opacity="0.8"/>
<circle cx="320.7" cy="562.2" r="3.8" fill="#21918c" fill-opacity="0.8"/>
<circle cx="336.7" cy="574.1" r="3.8" fill="#21918c" fill-opacity="0.8"/>
<circle cx="346.3" cy="566.1" r="3.8" fill="#21918c" fill-opacity="0.8"/>
<circle cx="263.5" cy="576.3" r="3.8" fill="#21918c" fill-opacity="0.8"/>
<circle cx="303.6" cy="579.5" r="3.8" fill="#21918c" fill-opacity="0.8"/>
<circle cx="373.6" cy="577.9" r="3.8" fill="#21918c" fill-opacity="0.8"/>
<circle cx="385.5" cy="586.0" r="3.8" fill="#21918c" fill-opacity="0.8"/>
<circle cx="216.9" cy="586.3" r="3.8" fill="#21918c" fill-opacity="0.8"/>
<circle cx="250.0" cy="587.9" r="3.8" fill="#21918c" fill-opacity="0.8"/>
<circle cx="287.6" cy="595.6" r="3.8" fill="#21918c" fill-opacity="0.8"/>
<circle cx="202.5" cy="601.7" r="3.8" fill="#21918c" fill-opacity="0.8"/>
<circle cx="209.5" cy="607.8" r="3.8" fill="#21918c" fill-opacity="0.8"/>
<circle cx="238.8" cy="604.0" r="3.8" fill="#21918c" fill-opacity="0.8"/>
<circle cx="248.4" cy="599.1" r="3.8" fill="#21918c" fill-opacity="0.8"/>
<circle cx="257.1" cy="600.4" r="3.8" fill="#21918c" fill-opacity="0.8"/>
<circle cx="258.7" cy="607.2" r="3.8" fill="#21918c" fill-opacity="0.8"/>
<circle cx="264.1" cy="609.7" r="3.8" fill="#21918c" fill-opacity="0.8"/>
<circle cx="266.1" cy="611.0" r="3.8" fill="#21918c" fill-opacity="0.8"/>
<circle cx="282.1" cy="609.4" r="3.8" fill="#21918c" fill-opacity="0.8"/>
<circle cx="338.0" cy="603.0" r="3.8" fill="#21918c" fill-opacity="0.8"/>
<circle cx="322.9" cy="614.2" r="3.8" fill="#21918c" fill-opacity="0.8"/>
<circle cx="326.1" cy="612.6" r="3.8" fill="#21918c" fill-opacity="0.8"/>
<circle cx="335.1" cy="613.3" r="3.8" fill="#21918c" fill-opacity="0.8"/>
<circle cx="369.5" cy="608.8" r="3.8" fill="#21918c" fill-opacity="0.8"/>
<circle cx="372.0" cy="608.8" r="3.8" fill="#21918c" fill-opacity="0.8"/>
<circle cx="243.6" cy="619.7" r="3.8" fill="#21918c" fill-opacity="0.8"/>
<circle cx="257.1" cy="620.6" r="3.8" fill="#21918c" fill-opacity="0.8"/>
<circle cx="260.3" cy="624.8" r="3.8" fill="#21918c" fill-opacity="0.8"/>
<circle cx="263.5" cy="629.6" r="3.8" fill="#21918c" fill-opacity="0.8"/>
<circle cx="246.8" cy="628.0" r="3.8" fill="#21918c" fill-opacity="0.8"/>
<circle cx="192.8" cy="635.1" r="3.8" fill="#21918c" fill-opacity="0.8"/>
<circle cx="199.3" cy="641.5" r="3.8" fill="#21918c" fill-opacity="0.8"/>
<circle cx="206.3" cy="639.9" r="3.8" fill="#21918c" fill-opacity="0.8"/>
<circle cx="230.1" cy="635.1" r="3.8" fill="#21918c" fill-opacity="0.8"/>
<circle cx="248.4" cy="642.5" r="3.8" fill="#21918c" fill-opacity="0.8"/>
<circle cx="238.8" cy="654.7" r="3.8" fill="#21918c" fill-opacity="0.8"/>
<circle cx="311.7" cy="646.3" r="3.8" fill="#21918c" fill-opacity="0.8"/>
<circle cx="316.5" cy="645.4" r="3.8" fill="#21918c" fill-opacity="0.8"/>
<circle cx="330.3" cy="641.2" r="3.8" fill="#21918c" fill-opacity="0.8"/>
<circle cx="319.0" cy="654.0" r="3.8" fill="#21918c" fill-opacity="0.8"/>
<circle cx="336.4" cy="654.0" r="3.8" fill="#21918c" fill-opacity="0.8"/>
<line x1="420.10" y1="608.50" x2="444.70" y2="608.50" stroke="#21918c" stroke-width="1.6"/>
<line x1="504.80" y1="608.50" x2="591.80" y2="608.50" stroke="#21918c" stroke-width="1.6"/>
<rect x="444.70" y="594.00" width="60.10" height="30.00" fill="none" stroke="#21918c" stroke-width="1.6"/>
<line x1="474.00" y1="594.00" x2="474.00" y2="624.00" stroke="#21918c" stroke-width="3.0"/>
<circle cx="420.1" cy="571.3" r="3.8" fill="#21918c" fill-opacity="0.8"/>
<circle cx="422.2" cy="571.3" r="3.8" fill="#21918c" fill-opacity="0.8"/>
<circle cx="450.0" cy="573.7" r="3.8" fill="#21918c" fill-opacity="0.8"/>
<circle cx="488.8" cy="567.2" r="3.8" fill="#21918c" fill-opacity="0.8"/>
<circle cx="491.7" cy="582.7" r="3.8" fill="#21918c" fill-opacity="0.8"/>
<circle cx="500.3" cy="581.1" r="3.8" fill="#21918c" fill-opacity="0.8"/>
<circle cx="556.3" cy="594.2" r="3.8" fill="#21918c" fill-opacity="0.8"/>
<circle cx="444.2" cy="610.1" r="3.8" fill="#21918c" fill-opacity="0.8"/>
<circle cx="464.3" cy="606.4" r="3.8" fill="#21918c" fill-opacity="0.8"/>
<circle cx="468.4" cy="606.4" r="3.8" fill="#21918c" fill-opacity="0.8"/>
<circle cx="474.5" cy="604.4" r="3.8" fill="#21918c" fill-opacity="0.8"/>
<circle cx="443.8" cy="622.4" r="3.8" fill="#21918c" fill-opacity="0.8"/>
<circle cx="459.4" cy="619.5" r="3.8" fill="#21918c" fill-opacity="0.8"/>
<circle cx="503.1" cy="624.8" r="3.8" fill="#21918c" fill-opacity="0.8"/>
<circle cx="492.9" cy="631.0" r="3.8" fill="#21918c" fill-opacity="0.8"/>
<circle cx="550.1" cy="629.3" r="3.8" fill="#21918c" fill-opacity="0.8"/>
<circle cx="591.8" cy="624.8" r="3.8" fill="#21918c" fill-opacity="0.8"/>
<circle cx="427.1" cy="634.6" r="3.8" fill="#21918c" fill-opacity="0.8"/>
<circle cx="445.9" cy="634.6" r="3.8" fill="#21918c" fill-opacity="0.8"/>
<circle cx="428.7" cy="652.6" r="3.8" fill="#21918c" fill-opacity="0.8"/>
<circle cx="506.4" cy="646.5" r="3.8" fill="#21918c" fill-opacity="0.8"/>
<circle cx="564.9" cy="643.6" r="3.8" fill="#21918c" fill-opacity="0.8"/>
<circle cx="651.0" cy="608.5" r="3.8" fill="#21918c" fill-opacity="0.8"/>
<circle cx="651.0" cy="608.5" r="3.8" fill="#21918c" fill-opacity="0.8"/>
<circle cx="651.0" cy="641.7" r="3.8" fill="#21918c" fill-opacity="0.8"/>
<rect x="124.00" y="745.00" width="273.00" height="26.55" fill="#fff" stroke="#262626" stroke-width="1.6"/>
<rect x="408.40" y="745.00" width="273.10" height="26.55" fill="#fff" stroke="#262626" stroke-width="1.6"/>
<path d="M123.0,910.5 L123.0,918.5 L397.7,918.5" fill="none" stroke="#000" stroke-width="1.8" stroke-linejoin="round"/>
<line x1="407.70" y1="918.50" x2="682.20" y2="918.50" stroke="#000" stroke-width="1.8"/>
<line x1="132.50" y1="918.50" x2="132.50" y2="923.00" stroke="#222" stroke-width="1.4"/>
<line x1="191.43" y1="918.50" x2="191.43" y2="923.00" stroke="#222" stroke-width="1.4"/>
<line x1="250.36" y1="918.50" x2="250.36" y2="923.00" stroke="#222" stroke-width="1.4"/>
<line x1="309.29" y1="918.50" x2="309.29" y2="923.00" stroke="#222" stroke-width="1.4"/>
<line x1="368.22" y1="918.50" x2="368.22" y2="923.00" stroke="#222" stroke-width="1.4"/>
<line x1="416.90" y1="918.50" x2="416.90" y2="923.00" stroke="#222" stroke-width="1.4"/>
<line x1="475.83" y1="918.50" x2="475.83" y2="923.00" stroke="#222" stroke-width="1.4"/>
<line x1="534.76" y1="918.50" x2="534.76" y2="923.00" stroke="#222" stroke-width="1.4"/>
<line x1="593.69" y1="918.50" x2="593.69" y2="923.00" stroke="#222" stroke-width="1.4"/>
<line x1="652.62" y1="918.50" x2="652.62" y2="923.00" stroke="#222" stroke-width="1.4"/>
<line x1="123.00" y1="771.55" x2="123.00" y2="911.50" stroke="#000" stroke-width="1.8"/>
<line x1="118.50" y1="845.00" x2="123.00" y2="845.00" stroke="#222" stroke-width="1.4"/>
<line x1="155.60" y1="845.30" x2="173.40" y2="845.30" stroke="#21918c" stroke-width="1.6"/>
<line x1="292.80" y1="845.30" x2="385.40" y2="845.30" stroke="#21918c" stroke-width="1.6"/>
<rect x="173.40" y="830.20" width="119.40" height="29.70" fill="none" stroke="#21918c" stroke-width="1.6"/>
<line x1="227.30" y1="830.20" x2="227.30" y2="859.90" stroke="#21918c" stroke-width="3.0"/>
<circle cx="156.8" cy="803.5" r="3.8" fill="#21918c" fill-opacity="0.8"/>
<circle cx="169.4" cy="803.5" r="3.8" fill="#21918c" fill-opacity="0.8"/>
<circle cx="171.8" cy="809.4" r="3.8" fill="#21918c" fill-opacity="0.8"/>
<circle cx="176.5" cy="814.6" r="3.8" fill="#21918c" fill-opacity="0.8"/>
<circle cx="176.1" cy="821.3" r="3.8" fill="#21918c" fill-opacity="0.8"/>
<circle cx="199.8" cy="815.4" r="3.8" fill="#21918c" fill-opacity="0.8"/>
<circle cx="199.0" cy="825.6" r="3.8" fill="#21918c" fill-opacity="0.8"/>
<circle cx="243.1" cy="799.6" r="3.8" fill="#21918c" fill-opacity="0.8"/>
<circle cx="161.5" cy="829.5" r="3.8" fill="#21918c" fill-opacity="0.8"/>
<circle cx="165.5" cy="828.4" r="3.8" fill="#21918c" fill-opacity="0.8"/>
<circle cx="166.7" cy="837.4" r="3.8" fill="#21918c" fill-opacity="0.8"/>
<circle cx="154.8" cy="850.0" r="3.8" fill="#21918c" fill-opacity="0.8"/>
<circle cx="175.3" cy="846.9" r="3.8" fill="#21918c" fill-opacity="0.8"/>
<circle cx="197.0" cy="842.9" r="3.8" fill="#21918c" fill-opacity="0.8"/>
<circle cx="222.6" cy="839.0" r="3.8" fill="#21918c" fill-opacity="0.8"/>
<circle cx="226.6" cy="844.1" r="3.8" fill="#21918c" fill-opacity="0.8"/>
<circle cx="258.1" cy="840.2" r="3.8" fill="#21918c" fill-opacity="0.8"/>
<circle cx="279.0" cy="836.2" r="3.8" fill="#21918c" fill-opacity="0.8"/>
<circle cx="286.9" cy="836.2" r="3.8" fill="#21918c" fill-opacity="0.8"/>
<circle cx="285.7" cy="845.3" r="3.8" fill="#21918c" fill-opacity="0.8"/>
<circle cx="266.0" cy="854.8" r="3.8" fill="#21918c" fill-opacity="0.8"/>
<circle cx="170.6" cy="854.0" r="3.8" fill="#21918c" fill-opacity="0.8"/>
<circle cx="162.7" cy="858.7" r="3.8" fill="#21918c" fill-opacity="0.8"/>
<circle cx="170.6" cy="859.9" r="3.8" fill="#21918c" fill-opacity="0.8"/>
<circle cx="168.2" cy="865.0" r="3.8" fill="#21918c" fill-opacity="0.8"/>
<circle cx="202.9" cy="857.9" r="3.8" fill="#21918c" fill-opacity="0.8"/>
<circle cx="227.8" cy="860.7" r="3.8" fill="#21918c" fill-opacity="0.8"/>
<circle cx="175.3" cy="869.7" r="3.8" fill="#21918c" fill-opacity="0.8"/>
<circle cx="168.6" cy="876.8" r="3.8" fill="#21918c" fill-opacity="0.8"/>
<circle cx="227.4" cy="870.9" r="3.8" fill="#21918c" fill-opacity="0.8"/>
<circle cx="243.5" cy="868.6" r="3.8" fill="#21918c" fill-opacity="0.8"/>
<circle cx="256.1" cy="868.6" r="3.8" fill="#21918c" fill-opacity="0.8"/>
<circle cx="265.2" cy="874.5" r="3.8" fill="#21918c" fill-opacity="0.8"/>
<circle cx="212.0" cy="887.5" r="3.8" fill="#21918c" fill-opacity="0.8"/>
<circle cx="287.7" cy="878.4" r="3.8" fill="#21918c" fill-opacity="0.8"/>
<circle cx="296.3" cy="880.8" r="3.8" fill="#21918c" fill-opacity="0.8"/>
<circle cx="313.3" cy="882.8" r="3.8" fill="#21918c" fill-opacity="0.8"/>
<circle cx="310.5" cy="886.7" r="3.8" fill="#21918c" fill-opacity="0.8"/>
<circle cx="302.6" cy="891.4" r="3.8" fill="#21918c" fill-opacity="0.8"/>
<circle cx="304.2" cy="808.7" r="3.8" fill="#21918c" fill-opacity="0.8"/>
<circle cx="309.3" cy="804.7" r="3.8" fill="#21918c" fill-opacity="0.8"/>
<circle cx="377.5" cy="801.6" r="3.8" fill="#21918c" fill-opacity="0.8"/>
<circle cx="385.4" cy="818.5" r="3.8" fill="#21918c" fill-opacity="0.8"/>
<circle cx="357.8" cy="821.7" r="3.8" fill="#21918c" fill-opacity="0.8"/>
<circle cx="362.6" cy="841.0" r="3.8" fill="#21918c" fill-opacity="0.8"/>
<circle cx="322.0" cy="849.2" r="3.8" fill="#21918c" fill-opacity="0.8"/>
<circle cx="345.6" cy="848.1" r="3.8" fill="#21918c" fill-opacity="0.8"/>
<line x1="416.40" y1="845.50" x2="425.40" y2="845.50" stroke="#21918c" stroke-width="1.6"/>
<line x1="456.50" y1="845.50" x2="488.00" y2="845.50" stroke="#21918c" stroke-width="1.6"/>
<rect x="425.40" y="830.70" width="31.10" height="29.90" fill="none" stroke="#21918c" stroke-width="1.6"/>
<line x1="431.10" y1="830.70" x2="431.10" y2="860.60" stroke="#21918c" stroke-width="3.0"/>
<circle cx="421.4" cy="800.5" r="3.8" fill="#21918c" fill-opacity="0.8"/>
<circle cx="423.4" cy="800.5" r="3.8" fill="#21918c" fill-opacity="0.8"/>
<circle cx="429.5" cy="797.3" r="3.8" fill="#21918c" fill-opacity="0.8"/>
<circle cx="451.2" cy="806.7" r="3.8" fill="#21918c" fill-opacity="0.8"/>
<circle cx="431.6" cy="814.4" r="3.8" fill="#21918c" fill-opacity="0.8"/>
<circle cx="435.7" cy="814.4" r="3.8" fill="#21918c" fill-opacity="0.8"/>
<circle cx="426.3" cy="822.6" r="3.8" fill="#21918c" fill-opacity="0.8"/>
<circle cx="488.0" cy="821.0" r="3.8" fill="#21918c" fill-opacity="0.8"/>
<circle cx="443.8" cy="832.0" r="3.8" fill="#21918c" fill-opacity="0.8"/>
<circle cx="421.4" cy="837.3" r="3.8" fill="#21918c" fill-opacity="0.8"/>
<circle cx="424.6" cy="838.1" r="3.8" fill="#21918c" fill-opacity="0.8"/>
<circle cx="420.1" cy="843.5" r="3.8" fill="#21918c" fill-opacity="0.8"/>
<circle cx="506.0" cy="845.5" r="3.8" fill="#21918c" fill-opacity="0.8"/>
<circle cx="506.0" cy="845.5" r="3.8" fill="#21918c" fill-opacity="0.8"/>
<circle cx="444.7" cy="854.5" r="3.8" fill="#21918c" fill-opacity="0.8"/>
<circle cx="463.5" cy="865.1" r="3.8" fill="#21918c" fill-opacity="0.8"/>
<circle cx="423.8" cy="874.9" r="3.8" fill="#21918c" fill-opacity="0.8"/>
<circle cx="429.5" cy="877.8" r="3.8" fill="#21918c" fill-opacity="0.8"/>
<circle cx="446.7" cy="877.8" r="3.8" fill="#21918c" fill-opacity="0.8"/>
<circle cx="427.1" cy="884.3" r="3.8" fill="#21918c" fill-opacity="0.8"/>
<circle cx="461.4" cy="884.3" r="3.8" fill="#21918c" fill-opacity="0.8"/>
<circle cx="462.6" cy="889.3" r="3.8" fill="#21918c" fill-opacity="0.8"/>
<circle cx="431.6" cy="892.1" r="3.8" fill="#21918c" fill-opacity="0.8"/>
<circle cx="506.0" cy="888.0" r="3.8" fill="#21918c" fill-opacity="0.8"/>
<circle cx="647.0" cy="845.5" r="3.8" fill="#21918c" fill-opacity="0.8"/>
<circle cx="647.0" cy="845.5" r="3.8" fill="#21918c" fill-opacity="0.8"/>
<circle cx="647.0" cy="865.5" r="3.8" fill="#21918c" fill-opacity="0.8"/>
<rect x="124.00" y="981.90" width="273.00" height="26.55" fill="#fff" stroke="#262626" stroke-width="1.6"/>
<rect x="408.40" y="981.90" width="273.10" height="26.55" fill="#fff" stroke="#262626" stroke-width="1.6"/>
<path d="M123.0,1147.0 L123.0,1155.0 L397.7,1155.0" fill="none" stroke="#000" stroke-width="1.8" stroke-linejoin="round"/>
<line x1="407.70" y1="1155.00" x2="682.20" y2="1155.00" stroke="#000" stroke-width="1.8"/>
<line x1="127.40" y1="1155.00" x2="127.40" y2="1159.50" stroke="#222" stroke-width="1.4"/>
<line x1="189.45" y1="1155.00" x2="189.45" y2="1159.50" stroke="#222" stroke-width="1.4"/>
<line x1="251.50" y1="1155.00" x2="251.50" y2="1159.50" stroke="#222" stroke-width="1.4"/>
<line x1="313.55" y1="1155.00" x2="313.55" y2="1159.50" stroke="#222" stroke-width="1.4"/>
<line x1="375.60" y1="1155.00" x2="375.60" y2="1159.50" stroke="#222" stroke-width="1.4"/>
<line x1="411.40" y1="1155.00" x2="411.40" y2="1159.50" stroke="#222" stroke-width="1.4"/>
<line x1="473.45" y1="1155.00" x2="473.45" y2="1159.50" stroke="#222" stroke-width="1.4"/>
<line x1="535.50" y1="1155.00" x2="535.50" y2="1159.50" stroke="#222" stroke-width="1.4"/>
<line x1="597.55" y1="1155.00" x2="597.55" y2="1159.50" stroke="#222" stroke-width="1.4"/>
<line x1="659.60" y1="1155.00" x2="659.60" y2="1159.50" stroke="#222" stroke-width="1.4"/>
<line x1="123.00" y1="1008.45" x2="123.00" y2="1148.00" stroke="#000" stroke-width="1.8"/>
<line x1="118.50" y1="1082.50" x2="123.00" y2="1082.50" stroke="#222" stroke-width="1.4"/>
<line x1="174.10" y1="1082.30" x2="206.10" y2="1082.30" stroke="#21918c" stroke-width="1.6"/>
<line x1="241.50" y1="1082.30" x2="278.20" y2="1082.30" stroke="#21918c" stroke-width="1.6"/>
<rect x="206.10" y="1068.00" width="35.40" height="29.30" fill="none" stroke="#21918c" stroke-width="1.6"/>
<line x1="221.70" y1="1068.00" x2="221.70" y2="1097.30" stroke="#21918c" stroke-width="3.0"/>
<circle cx="186.4" cy="1035.8" r="3.8" fill="#21918c" fill-opacity="0.8"/>
<circle cx="204.9" cy="1035.8" r="3.8" fill="#21918c" fill-opacity="0.8"/>
<circle cx="208.8" cy="1036.6" r="3.8" fill="#21918c" fill-opacity="0.8"/>
<circle cx="214.7" cy="1033.8" r="3.8" fill="#21918c" fill-opacity="0.8"/>
<circle cx="212.0" cy="1039.7" r="3.8" fill="#21918c" fill-opacity="0.8"/>
<circle cx="239.6" cy="1040.5" r="3.8" fill="#21918c" fill-opacity="0.8"/>
<circle cx="314.5" cy="1043.7" r="3.8" fill="#21918c" fill-opacity="0.8"/>
<circle cx="321.2" cy="1033.8" r="3.8" fill="#21918c" fill-opacity="0.8"/>
<circle cx="215.9" cy="1048.4" r="3.8" fill="#21918c" fill-opacity="0.8"/>
<circle cx="221.4" cy="1048.4" r="3.8" fill="#21918c" fill-opacity="0.8"/>
<circle cx="218.7" cy="1051.5" r="3.8" fill="#21918c" fill-opacity="0.8"/>
<circle cx="233.7" cy="1051.5" r="3.8" fill="#21918c" fill-opacity="0.8"/>
<circle cx="181.6" cy="1052.7" r="3.8" fill="#21918c" fill-opacity="0.8"/>
<circle cx="173.4" cy="1058.6" r="3.8" fill="#21918c" fill-opacity="0.8"/>
<circle cx="203.7" cy="1054.3" r="3.8" fill="#21918c" fill-opacity="0.8"/>
<circle cx="208.8" cy="1058.2" r="3.8" fill="#21918c" fill-opacity="0.8"/>
<circle cx="225.8" cy="1058.2" r="3.8" fill="#21918c" fill-opacity="0.8"/>
<circle cx="240.4" cy="1056.7" r="3.8" fill="#21918c" fill-opacity="0.8"/>
<circle cx="273.9" cy="1064.5" r="3.8" fill="#21918c" fill-opacity="0.8"/>
<circle cx="182.8" cy="1069.3" r="3.8" fill="#21918c" fill-opacity="0.8"/>
<circle cx="175.3" cy="1075.2" r="3.8" fill="#21918c" fill-opacity="0.8"/>
<circle cx="206.9" cy="1066.5" r="3.8" fill="#21918c" fill-opacity="0.8"/>
<circle cx="214.0" cy="1072.0" r="3.8" fill="#21918c" fill-opacity="0.8"/>
<circle cx="223.8" cy="1068.1" r="3.8" fill="#21918c" fill-opacity="0.8"/>
<circle cx="226.6" cy="1075.2" r="3.8" fill="#21918c" fill-opacity="0.8"/>
<circle cx="243.1" cy="1079.9" r="3.8" fill="#21918c" fill-opacity="0.8"/>
<circle cx="314.5" cy="1082.3" r="3.8" fill="#21918c" fill-opacity="0.8"/>
<circle cx="314.5" cy="1082.3" r="3.8" fill="#21918c" fill-opacity="0.8"/>
<circle cx="321.2" cy="1082.3" r="3.8" fill="#21918c" fill-opacity="0.8"/>
<circle cx="385.4" cy="1082.3" r="3.8" fill="#21918c" fill-opacity="0.8"/>
<circle cx="385.4" cy="1082.3" r="3.8" fill="#21918c" fill-opacity="0.8"/>
<circle cx="189.1" cy="1092.9" r="3.8" fill="#21918c" fill-opacity="0.8"/>
<circle cx="192.3" cy="1092.1" r="3.8" fill="#21918c" fill-opacity="0.8"/>
<circle cx="217.9" cy="1094.9" r="3.8" fill="#21918c" fill-opacity="0.8"/>
<circle cx="224.6" cy="1096.1" r="3.8" fill="#21918c" fill-opacity="0.8"/>
<circle cx="258.1" cy="1089.0" r="3.8" fill="#21918c" fill-opacity="0.8"/>
<circle cx="253.0" cy="1092.9" r="3.8" fill="#21918c" fill-opacity="0.8"/>
<circle cx="210.8" cy="1100.0" r="3.8" fill="#21918c" fill-opacity="0.8"/>
<circle cx="222.6" cy="1102.8" r="3.8" fill="#21918c" fill-opacity="0.8"/>
<circle cx="227.8" cy="1101.6" r="3.8" fill="#21918c" fill-opacity="0.8"/>
<circle cx="231.7" cy="1106.7" r="3.8" fill="#21918c" fill-opacity="0.8"/>
<circle cx="238.4" cy="1106.7" r="3.8" fill="#21918c" fill-opacity="0.8"/>
<circle cx="244.3" cy="1102.8" r="3.8" fill="#21918c" fill-opacity="0.8"/>
<circle cx="245.9" cy="1104.7" r="3.8" fill="#21918c" fill-opacity="0.8"/>
<circle cx="261.3" cy="1102.0" r="3.8" fill="#21918c" fill-opacity="0.8"/>
<circle cx="197.0" cy="1107.5" r="3.8" fill="#21918c" fill-opacity="0.8"/>
<circle cx="176.5" cy="1114.6" r="3.8" fill="#21918c" fill-opacity="0.8"/>
<circle cx="188.3" cy="1115.4" r="3.8" fill="#21918c" fill-opacity="0.8"/>
<circle cx="262.0" cy="1117.4" r="3.8" fill="#21918c" fill-opacity="0.8"/>
<circle cx="277.8" cy="1113.4" r="3.8" fill="#21918c" fill-opacity="0.8"/>
<circle cx="385.4" cy="1125.6" r="3.8" fill="#21918c" fill-opacity="0.8"/>
<line x1="420.10" y1="1082.10" x2="439.80" y2="1082.10" stroke="#21918c" stroke-width="1.6"/>
<line x1="477.80" y1="1082.10" x2="514.60" y2="1082.10" stroke="#21918c" stroke-width="1.6"/>
<rect x="439.80" y="1068.50" width="38.00" height="29.20" fill="none" stroke="#21918c" stroke-width="1.6"/>
<line x1="460.50" y1="1068.50" x2="460.50" y2="1097.70" stroke="#21918c" stroke-width="3.0"/>
<circle cx="420.1" cy="1043.3" r="3.8" fill="#21918c" fill-opacity="0.8"/>
<circle cx="426.3" cy="1050.7" r="3.8" fill="#21918c" fill-opacity="0.8"/>
<circle cx="514.6" cy="1041.3" r="3.8" fill="#21918c" fill-opacity="0.8"/>
<circle cx="436.5" cy="1061.7" r="3.8" fill="#21918c" fill-opacity="0.8"/>
<circle cx="439.8" cy="1062.9" r="3.8" fill="#21918c" fill-opacity="0.8"/>
<circle cx="448.7" cy="1061.7" r="3.8" fill="#21918c" fill-opacity="0.8"/>
<circle cx="459.4" cy="1054.8" r="3.8" fill="#21918c" fill-opacity="0.8"/>
<circle cx="463.5" cy="1056.0" r="3.8" fill="#21918c" fill-opacity="0.8"/>
<circle cx="463.5" cy="1069.1" r="3.8" fill="#21918c" fill-opacity="0.8"/>
<circle cx="513.3" cy="1066.2" r="3.8" fill="#21918c" fill-opacity="0.8"/>
<circle cx="449.2" cy="1080.5" r="3.8" fill="#21918c" fill-opacity="0.8"/>
<circle cx="455.3" cy="1077.2" r="3.8" fill="#21918c" fill-opacity="0.8"/>
<circle cx="460.2" cy="1085.4" r="3.8" fill="#21918c" fill-opacity="0.8"/>
<circle cx="462.2" cy="1087.5" r="3.8" fill="#21918c" fill-opacity="0.8"/>
<circle cx="426.7" cy="1090.3" r="3.8" fill="#21918c" fill-opacity="0.8"/>
<circle cx="450.8" cy="1092.4" r="3.8" fill="#21918c" fill-opacity="0.8"/>
<circle cx="432.4" cy="1098.5" r="3.8" fill="#21918c" fill-opacity="0.8"/>
<circle cx="484.7" cy="1092.8" r="3.8" fill="#21918c" fill-opacity="0.8"/>
<circle cx="504.3" cy="1086.2" r="3.8" fill="#21918c" fill-opacity="0.8"/>
<circle cx="504.3" cy="1086.2" r="3.8" fill="#21918c" fill-opacity="0.8"/>
<circle cx="439.8" cy="1116.1" r="3.8" fill="#21918c" fill-opacity="0.8"/>
<circle cx="477.4" cy="1115.3" r="3.8" fill="#21918c" fill-opacity="0.8"/>
<circle cx="477.4" cy="1125.5" r="3.8" fill="#21918c" fill-opacity="0.8"/>
<mask id="m1" maskUnits="userSpaceOnUse" x="0" y="0" width="685" height="1196"><rect width="685" height="1196" fill="#fff"/><rect x="27.73" y="258.66" width="8.47" height="13.23" fill="#000"/><rect x="27.73" y="285.81" width="8.47" height="13.23" fill="#000"/><rect x="27.73" y="312.96" width="8.47" height="13.23" fill="#000"/><rect x="38.03" y="340.11" width="8.47" height="13.23" fill="#000"/><rect x="45.25" y="340.11" width="8.47" height="13.23" fill="#000"/><rect x="50.53" y="367.26" width="8.47" height="13.23" fill="#000"/><rect x="57.75" y="367.26" width="8.47" height="13.23" fill="#000"/><rect x="41.34" y="394.41" width="8.47" height="13.23" fill="#000"/><rect x="48.56" y="394.41" width="8.47" height="13.23" fill="#000"/><rect x="0.81" y="421.56" width="8.47" height="13.23" fill="#000"/><rect x="8.03" y="421.56" width="8.47" height="13.23" fill="#000"/><rect x="172.44" y="101.24" width="9.76" height="15.48" fill="#000"/><rect x="160.52" y="128.24" width="9.94" height="15.48" fill="#000"/><rect x="203.52" y="156.44" width="9.62" height="15.48" fill="#000"/><rect x="228.09" y="156.44" width="9.62" height="15.48" fill="#000"/><rect x="161.22" y="236.24" width="9.73" height="15.48" fill="#000"/><rect x="444.12" y="128.34" width="9.73" height="15.48" fill="#000"/><rect x="459.06" y="128.34" width="9.73" height="15.48" fill="#000"/><rect x="444.92" y="236.94" width="9.81" height="15.48" fill="#000"/><rect x="463.44" y="264.74" width="9.76" height="15.48" fill="#000"/><rect x="556.10" y="609.74" width="10.23" height="15.48" fill="#000"/><rect x="183.23" y="926.31" width="8.46" height="13.33" fill="#000"/><rect x="467.63" y="926.31" width="8.46" height="13.33" fill="#000"/><rect x="267.72" y="847.44" width="10.22" height="15.48" fill="#000"/><rect x="361.15" y="1162.81" width="8.46" height="13.33" fill="#000"/><rect x="645.15" y="1162.81" width="8.46" height="13.33" fill="#000"/><rect x="28.85" y="1076.10" width="8.47" height="13.23" fill="#000"/><rect x="36.07" y="1076.10" width="8.47" height="13.23" fill="#000"/></mask>
<g mask="url(#m1)">
<text x="260.50" y="22.35" font-size="15.0" text-anchor="middle" fill="#1a1a1a" textLength="111.30" lengthAdjust="spacingAndGlyphs" transform="matrix(1 0 0 1.03 0 -0.671)">DHEA &gt;7 nmol/L</text>
<text x="544.95" y="22.35" font-size="15.0" text-anchor="middle" fill="#1a1a1a" textLength="107.14" lengthAdjust="spacingAndGlyphs" transform="matrix(1 0 0 1.03 0 -0.671)">DHEA &lt;7nmol/L</text>
<text x="135.80" y="464.24" font-size="15.0" text-anchor="middle" fill="#4d4d4d" textLength="8.34" lengthAdjust="spacingAndGlyphs" transform="matrix(1 0 0 1.04 0 -18.570)">0</text>
<text x="204.59" y="464.24" font-size="15.0" text-anchor="middle" fill="#4d4d4d" textLength="16.68" lengthAdjust="spacingAndGlyphs" transform="matrix(1 0 0 1.04 0 -18.570)">30</text>
<text x="273.38" y="464.24" font-size="15.0" text-anchor="middle" fill="#4d4d4d" textLength="16.68" lengthAdjust="spacingAndGlyphs" transform="matrix(1 0 0 1.04 0 -18.570)">60</text>
<text x="342.17" y="464.24" font-size="15.0" text-anchor="middle" fill="#4d4d4d" textLength="16.68" lengthAdjust="spacingAndGlyphs" transform="matrix(1 0 0 1.04 0 -18.570)">90</text>
<text x="419.90" y="464.24" font-size="15.0" text-anchor="middle" fill="#4d4d4d" textLength="8.34" lengthAdjust="spacingAndGlyphs" transform="matrix(1 0 0 1.04 0 -18.570)">0</text>
<text x="488.69" y="464.24" font-size="15.0" text-anchor="middle" fill="#4d4d4d" textLength="16.68" lengthAdjust="spacingAndGlyphs" transform="matrix(1 0 0 1.04 0 -18.570)">30</text>
<text x="557.48" y="464.24" font-size="15.0" text-anchor="middle" fill="#4d4d4d" textLength="16.68" lengthAdjust="spacingAndGlyphs" transform="matrix(1 0 0 1.04 0 -18.570)">60</text>
<text x="626.27" y="464.24" font-size="15.0" text-anchor="middle" fill="#4d4d4d" textLength="16.68" lengthAdjust="spacingAndGlyphs" transform="matrix(1 0 0 1.04 0 -18.570)">90</text>
<text x="401.30" y="483.38" font-size="11.6" text-anchor="middle" fill="#1a1a1a" font-weight="bold" textLength="39.16" lengthAdjust="spacingAndGlyphs">nmol/L</text>
<text x="114.30" y="53.09" font-size="15.0" text-anchor="end" fill="#4d4d4d" textLength="38.34" lengthAdjust="spacingAndGlyphs" transform="matrix(1 0 0 1.03 0 -1.593)">T_nM</text>
<text x="114.30" y="80.25" font-size="15.0" text-anchor="end" fill="#4d4d4d" textLength="47.52" lengthAdjust="spacingAndGlyphs" transform="matrix(1 0 0 1.03 0 -2.407)">P5_nM</text>
<text x="114.30" y="107.39" font-size="15.0" text-anchor="end" fill="#4d4d4d" textLength="47.52" lengthAdjust="spacingAndGlyphs" transform="matrix(1 0 0 1.03 0 -3.222)">P4_nM</text>
<text x="114.30" y="134.54" font-size="15.0" text-anchor="end" fill="#4d4d4d" textLength="60.00" lengthAdjust="spacingAndGlyphs" transform="matrix(1 0 0 1.03 0 -4.036)">DHT_nM</text>
<text x="114.30" y="161.69" font-size="15.0" text-anchor="end" fill="#4d4d4d" textLength="70.85" lengthAdjust="spacingAndGlyphs" transform="matrix(1 0 0 1.03 0 -4.851)">DHEA_nM</text>
<text x="114.30" y="188.84" font-size="15.0" text-anchor="end" fill="#4d4d4d" textLength="90.04" lengthAdjust="spacingAndGlyphs" transform="matrix(1 0 0 1.03 0 -5.665)">cortisone_nM</text>
<text x="114.30" y="215.99" font-size="15.0" text-anchor="end" fill="#4d4d4d" textLength="47.52" lengthAdjust="spacingAndGlyphs" transform="matrix(1 0 0 1.03 0 -6.480)">A5_nM</text>
<text x="114.30" y="243.14" font-size="15.0" text-anchor="end" fill="#4d4d4d" textLength="47.52" lengthAdjust="spacingAndGlyphs" transform="matrix(1 0 0 1.03 0 -7.294)">A4_nM</text>
<text x="114.30" y="270.29" font-size="15.0" text-anchor="end" fill="#4d4d4d" textLength="86.71" lengthAdjust="spacingAndGlyphs" transform="matrix(1 0 0 1.03 0 -8.109)">17OHP5_nM</text>
<text x="114.30" y="297.44" font-size="15.0" text-anchor="end" fill="#4d4d4d" textLength="86.71" lengthAdjust="spacingAndGlyphs" transform="matrix(1 0 0 1.03 0 -8.923)">17OHP4_nM</text>
<text x="114.30" y="324.59" font-size="15.0" text-anchor="end" fill="#4d4d4d" textLength="86.71" lengthAdjust="spacingAndGlyphs" transform="matrix(1 0 0 1.03 0 -9.738)">16OHP4_nM</text>
<text x="114.30" y="351.74" font-size="15.0" text-anchor="end" fill="#4d4d4d" textLength="76.41" lengthAdjust="spacingAndGlyphs" transform="matrix(1 0 0 1.03 0 -10.552)">11OHT_nM</text>
<text x="114.30" y="378.89" font-size="15.0" text-anchor="end" fill="#4d4d4d" textLength="63.91" lengthAdjust="spacingAndGlyphs" transform="matrix(1 0 0 1.03 0 -11.367)">11KT_nM</text>
<text x="114.30" y="406.04" font-size="15.0" text-anchor="end" fill="#4d4d4d" textLength="73.10" lengthAdjust="spacingAndGlyphs" transform="matrix(1 0 0 1.03 0 -12.181)">11KA4_nM</text>
<text x="114.30" y="433.19" font-size="15.0" text-anchor="end" fill="#4d4d4d" textLength="113.63" lengthAdjust="spacingAndGlyphs" transform="matrix(1 0 0 1.03 0 -12.996)">11-DHCORT_nM</text>
<text x="223.67" y="60.22" font-size="18.0" text-anchor="start" fill="#000" textLength="36.09" lengthAdjust="spacingAndGlyphs" transform="matrix(1 0 0 1.04 0 -2.409)">25.5</text>
<text x="165.15" y="88.12" font-size="18.0" text-anchor="start" fill="#000" textLength="26.00" lengthAdjust="spacingAndGlyphs" transform="matrix(1 0 0 1.04 0 -3.525)">3.8</text>
<text x="157.08" y="115.12" font-size="18.0" text-anchor="start" fill="#000" textLength="25.02" lengthAdjust="spacingAndGlyphs" transform="matrix(1 0 0 1.04 0 -4.605)">0.1</text>
<text x="160.12" y="142.12" font-size="18.0" text-anchor="start" fill="#000" textLength="25.61" lengthAdjust="spacingAndGlyphs" transform="matrix(1 0 0 1.04 0 -5.685)">1.3</text>
<text x="203.17" y="170.32" font-size="18.0" text-anchor="start" fill="#000" textLength="34.43" lengthAdjust="spacingAndGlyphs" transform="matrix(1 0 0 1.04 0 -6.813)">16.1</text>
<text x="302.55" y="196.02" font-size="18.0" text-anchor="start" fill="#000" textLength="36.62" lengthAdjust="spacingAndGlyphs" transform="matrix(1 0 0 1.04 0 -7.841)">59.6</text>
<text x="168.35" y="223.82" font-size="18.0" text-anchor="start" fill="#000" textLength="25.28" lengthAdjust="spacingAndGlyphs" transform="matrix(1 0 0 1.04 0 -8.953)">4.8</text>
<text x="160.85" y="250.12" font-size="18.0" text-anchor="start" fill="#000" textLength="24.94" lengthAdjust="spacingAndGlyphs" transform="matrix(1 0 0 1.04 0 -10.005)">1.7</text>
<text x="176.77" y="277.92" font-size="18.0" text-anchor="start" fill="#000" textLength="25.56" lengthAdjust="spacingAndGlyphs" transform="matrix(1 0 0 1.04 0 -11.117)">8.8</text>
<text x="157.84" y="305.82" font-size="18.0" text-anchor="start" fill="#000" textLength="26.31" lengthAdjust="spacingAndGlyphs" transform="matrix(1 0 0 1.04 0 -12.233)">0.5</text>
<text x="158.56" y="332.12" font-size="18.0" text-anchor="start" fill="#000" textLength="25.77" lengthAdjust="spacingAndGlyphs" transform="matrix(1 0 0 1.04 0 -13.285)">0.7</text>
<text x="158.15" y="359.52" font-size="18.0" text-anchor="start" fill="#000" textLength="26.20" lengthAdjust="spacingAndGlyphs" transform="matrix(1 0 0 1.04 0 -14.381)">0.7</text>
<text x="158.16" y="387.22" font-size="18.0" text-anchor="start" fill="#000" textLength="25.80" lengthAdjust="spacingAndGlyphs" transform="matrix(1 0 0 1.04 0 -15.489)">0.4</text>
<text x="158.13" y="414.22" font-size="18.0" text-anchor="start" fill="#000" textLength="26.74" lengthAdjust="spacingAndGlyphs" transform="matrix(1 0 0 1.04 0 -16.569)">0.8</text>
<text x="168.02" y="440.52" font-size="18.0" text-anchor="start" fill="#000" textLength="27.16" lengthAdjust="spacingAndGlyphs" transform="matrix(1 0 0 1.04 0 -17.621)">5.3</text>
<text x="501.45" y="61.32" font-size="18.0" text-anchor="start" fill="#000" textLength="36.92" lengthAdjust="spacingAndGlyphs" transform="matrix(1 0 0 1.04 0 -2.453)">22.6</text>
<text x="448.06" y="87.62" font-size="18.0" text-anchor="start" fill="#000" textLength="25.77" lengthAdjust="spacingAndGlyphs" transform="matrix(1 0 0 1.04 0 -3.505)">3.2</text>
<text x="427.78" y="115.22" font-size="18.0" text-anchor="start" fill="#000" textLength="11.36" lengthAdjust="spacingAndGlyphs" transform="matrix(1 0 0 1.04 0 -4.609)">0</text>
<text x="443.75" y="142.22" font-size="18.0" text-anchor="start" fill="#000" textLength="24.94" lengthAdjust="spacingAndGlyphs" transform="matrix(1 0 0 1.04 0 -5.689)">1.1</text>
<text x="437.88" y="169.92" font-size="18.0" text-anchor="start" fill="#000" textLength="9.23" lengthAdjust="spacingAndGlyphs" transform="matrix(1 0 0 1.04 0 -6.797)">4</text>
<text x="560.12" y="196.92" font-size="18.0" text-anchor="start" fill="#000" textLength="37.06" lengthAdjust="spacingAndGlyphs" transform="matrix(1 0 0 1.04 0 -7.877)">47.8</text>
<text x="448.74" y="223.82" font-size="18.0" text-anchor="start" fill="#000" textLength="26.42" lengthAdjust="spacingAndGlyphs" transform="matrix(1 0 0 1.04 0 -8.953)">3.6</text>
<text x="444.54" y="250.82" font-size="18.0" text-anchor="start" fill="#000" textLength="25.20" lengthAdjust="spacingAndGlyphs" transform="matrix(1 0 0 1.04 0 -10.033)">1.4</text>
<text x="448.08" y="278.62" font-size="18.0" text-anchor="start" fill="#000" textLength="25.02" lengthAdjust="spacingAndGlyphs" transform="matrix(1 0 0 1.04 0 -11.145)">3.1</text>
<text x="442.42" y="305.72" font-size="18.0" text-anchor="start" fill="#000" textLength="26.95" lengthAdjust="spacingAndGlyphs" transform="matrix(1 0 0 1.04 0 -12.229)">0.9</text>
<text x="441.96" y="332.02" font-size="18.0" text-anchor="start" fill="#000" textLength="25.88" lengthAdjust="spacingAndGlyphs" transform="matrix(1 0 0 1.04 0 -13.281)">0.3</text>
<text x="441.96" y="360.22" font-size="18.0" text-anchor="start" fill="#000" textLength="25.59" lengthAdjust="spacingAndGlyphs" transform="matrix(1 0 0 1.04 0 -14.409)">0.4</text>
<text x="441.96" y="387.22" font-size="18.0" text-anchor="start" fill="#000" textLength="25.59" lengthAdjust="spacingAndGlyphs" transform="matrix(1 0 0 1.04 0 -15.489)">0.4</text>
<text x="442.45" y="413.52" font-size="18.0" text-anchor="start" fill="#000" textLength="26.20" lengthAdjust="spacingAndGlyphs" transform="matrix(1 0 0 1.04 0 -16.541)">0.6</text>
<text x="446.33" y="440.52" font-size="18.0" text-anchor="start" fill="#000" textLength="26.83" lengthAdjust="spacingAndGlyphs" transform="matrix(1 0 0 1.04 0 -17.621)">2.7</text>
<text x="260.50" y="526.70" font-size="15.0" text-anchor="middle" fill="#1a1a1a" textLength="111.30" lengthAdjust="spacingAndGlyphs" transform="matrix(1 0 0 1.03 0 -15.801)">DHEA &gt;7 nmol/L</text>
<text x="544.95" y="526.70" font-size="15.0" text-anchor="middle" fill="#1a1a1a" textLength="107.14" lengthAdjust="spacingAndGlyphs" transform="matrix(1 0 0 1.03 0 -15.801)">DHEA &lt;7nmol/L</text>
<text x="196.70" y="700.94" font-size="15.0" text-anchor="middle" fill="#4d4d4d" textLength="25.02" lengthAdjust="spacingAndGlyphs" transform="matrix(1 0 0 1.04 0 -28.038)">200</text>
<text x="283.60" y="700.94" font-size="15.0" text-anchor="middle" fill="#4d4d4d" textLength="25.02" lengthAdjust="spacingAndGlyphs" transform="matrix(1 0 0 1.04 0 -28.038)">400</text>
<text x="370.50" y="700.94" font-size="15.0" text-anchor="middle" fill="#4d4d4d" textLength="25.02" lengthAdjust="spacingAndGlyphs" transform="matrix(1 0 0 1.04 0 -28.038)">600</text>
<text x="481.50" y="700.94" font-size="15.0" text-anchor="middle" fill="#4d4d4d" textLength="25.02" lengthAdjust="spacingAndGlyphs" transform="matrix(1 0 0 1.04 0 -28.038)">200</text>
<text x="568.40" y="700.94" font-size="15.0" text-anchor="middle" fill="#4d4d4d" textLength="25.02" lengthAdjust="spacingAndGlyphs" transform="matrix(1 0 0 1.04 0 -28.038)">400</text>
<text x="655.30" y="700.94" font-size="15.0" text-anchor="middle" fill="#4d4d4d" textLength="25.02" lengthAdjust="spacingAndGlyphs" transform="matrix(1 0 0 1.04 0 -28.038)">600</text>
<text x="401.30" y="720.08" font-size="11.6" text-anchor="middle" fill="#1a1a1a" font-weight="bold" textLength="39.16" lengthAdjust="spacingAndGlyphs">nmol/L</text>
<text x="114.30" y="613.43" font-size="15.0" text-anchor="end" fill="#4d4d4d" textLength="80.02" lengthAdjust="spacingAndGlyphs" transform="matrix(1 0 0 1.03 0 -18.403)">Cortisol_nM</text>
<text x="338.85" y="624.22" font-size="18.0" text-anchor="start" fill="#000" textLength="46.65" lengthAdjust="spacingAndGlyphs" transform="matrix(1 0 0 1.04 0 -24.969)">396.4</text>
<text x="545.05" y="623.62" font-size="18.0" text-anchor="start" fill="#000" textLength="47.75" lengthAdjust="spacingAndGlyphs" transform="matrix(1 0 0 1.04 0 -24.945)">217.7</text>
<text x="260.50" y="763.50" font-size="15.0" text-anchor="middle" fill="#1a1a1a" textLength="111.30" lengthAdjust="spacingAndGlyphs" transform="matrix(1 0 0 1.03 0 -22.905)">DHEA &gt;7 nmol/L</text>
<text x="544.95" y="763.50" font-size="15.0" text-anchor="middle" fill="#1a1a1a" textLength="107.14" lengthAdjust="spacingAndGlyphs" transform="matrix(1 0 0 1.03 0 -22.905)">DHEA &lt;7nmol/L</text>
<text x="132.50" y="938.04" font-size="15.0" text-anchor="middle" fill="#4d4d4d" textLength="8.34" lengthAdjust="spacingAndGlyphs" transform="matrix(1 0 0 1.04 0 -37.522)">0</text>
<text x="191.43" y="938.04" font-size="15.0" text-anchor="middle" fill="#4d4d4d" textLength="16.68" lengthAdjust="spacingAndGlyphs" transform="matrix(1 0 0 1.04 0 -37.522)">10</text>
<text x="250.36" y="938.04" font-size="15.0" text-anchor="middle" fill="#4d4d4d" textLength="16.68" lengthAdjust="spacingAndGlyphs" transform="matrix(1 0 0 1.04 0 -37.522)">20</text>
<text x="309.29" y="938.04" font-size="15.0" text-anchor="middle" fill="#4d4d4d" textLength="16.68" lengthAdjust="spacingAndGlyphs" transform="matrix(1 0 0 1.04 0 -37.522)">30</text>
<text x="368.22" y="938.04" font-size="15.0" text-anchor="middle" fill="#4d4d4d" textLength="16.68" lengthAdjust="spacingAndGlyphs" transform="matrix(1 0 0 1.04 0 -37.522)">40</text>
<text x="416.90" y="938.04" font-size="15.0" text-anchor="middle" fill="#4d4d4d" textLength="8.34" lengthAdjust="spacingAndGlyphs" transform="matrix(1 0 0 1.04 0 -37.522)">0</text>
<text x="475.83" y="938.04" font-size="15.0" text-anchor="middle" fill="#4d4d4d" textLength="16.68" lengthAdjust="spacingAndGlyphs" transform="matrix(1 0 0 1.04 0 -37.522)">10</text>
<text x="534.76" y="938.04" font-size="15.0" text-anchor="middle" fill="#4d4d4d" textLength="16.68" lengthAdjust="spacingAndGlyphs" transform="matrix(1 0 0 1.04 0 -37.522)">20</text>
<text x="593.69" y="938.04" font-size="15.0" text-anchor="middle" fill="#4d4d4d" textLength="16.68" lengthAdjust="spacingAndGlyphs" transform="matrix(1 0 0 1.04 0 -37.522)">30</text>
<text x="652.62" y="938.04" font-size="15.0" text-anchor="middle" fill="#4d4d4d" textLength="16.68" lengthAdjust="spacingAndGlyphs" transform="matrix(1 0 0 1.04 0 -37.522)">40</text>
<text x="401.30" y="957.18" font-size="11.6" text-anchor="middle" fill="#1a1a1a" font-weight="bold" textLength="39.16" lengthAdjust="spacingAndGlyphs">nmol/L</text>
<text x="114.30" y="850.23" font-size="15.0" text-anchor="end" fill="#4d4d4d" textLength="71.40" lengthAdjust="spacingAndGlyphs" transform="matrix(1 0 0 1.03 0 -25.507)">CORT_nM</text>
<text x="267.27" y="861.32" font-size="18.0" text-anchor="start" fill="#000" textLength="37.10" lengthAdjust="spacingAndGlyphs" transform="matrix(1 0 0 1.04 0 -34.453)">18.2</text>
<text x="469.62" y="861.82" font-size="18.0" text-anchor="start" fill="#000" textLength="27.16" lengthAdjust="spacingAndGlyphs" transform="matrix(1 0 0 1.04 0 -34.473)">5.7</text>
<text x="260.50" y="1000.40" font-size="15.0" text-anchor="middle" fill="#1a1a1a" textLength="111.30" lengthAdjust="spacingAndGlyphs" transform="matrix(1 0 0 1.03 0 -30.012)">DHEA &gt;7 nmol/L</text>
<text x="544.95" y="1000.40" font-size="15.0" text-anchor="middle" fill="#1a1a1a" textLength="107.14" lengthAdjust="spacingAndGlyphs" transform="matrix(1 0 0 1.03 0 -30.012)">DHEA &lt;7nmol/L</text>
<text x="127.40" y="1174.54" font-size="15.0" text-anchor="middle" fill="#4d4d4d" textLength="20.85" lengthAdjust="spacingAndGlyphs" transform="matrix(1 0 0 1.04 0 -46.982)">0.0</text>
<text x="189.45" y="1174.54" font-size="15.0" text-anchor="middle" fill="#4d4d4d" textLength="20.85" lengthAdjust="spacingAndGlyphs" transform="matrix(1 0 0 1.04 0 -46.982)">2.5</text>
<text x="251.50" y="1174.54" font-size="15.0" text-anchor="middle" fill="#4d4d4d" textLength="20.85" lengthAdjust="spacingAndGlyphs" transform="matrix(1 0 0 1.04 0 -46.982)">5.0</text>
<text x="313.55" y="1174.54" font-size="15.0" text-anchor="middle" fill="#4d4d4d" textLength="20.85" lengthAdjust="spacingAndGlyphs" transform="matrix(1 0 0 1.04 0 -46.982)">7.5</text>
<text x="375.60" y="1174.54" font-size="15.0" text-anchor="middle" fill="#4d4d4d" textLength="29.19" lengthAdjust="spacingAndGlyphs" transform="matrix(1 0 0 1.04 0 -46.982)">10.0</text>
<text x="411.40" y="1174.54" font-size="15.0" text-anchor="middle" fill="#4d4d4d" textLength="20.85" lengthAdjust="spacingAndGlyphs" transform="matrix(1 0 0 1.04 0 -46.982)">0.0</text>
<text x="473.45" y="1174.54" font-size="15.0" text-anchor="middle" fill="#4d4d4d" textLength="20.85" lengthAdjust="spacingAndGlyphs" transform="matrix(1 0 0 1.04 0 -46.982)">2.5</text>
<text x="535.50" y="1174.54" font-size="15.0" text-anchor="middle" fill="#4d4d4d" textLength="20.85" lengthAdjust="spacingAndGlyphs" transform="matrix(1 0 0 1.04 0 -46.982)">5.0</text>
<text x="597.55" y="1174.54" font-size="15.0" text-anchor="middle" fill="#4d4d4d" textLength="20.85" lengthAdjust="spacingAndGlyphs" transform="matrix(1 0 0 1.04 0 -46.982)">7.5</text>
<text x="659.60" y="1174.54" font-size="15.0" text-anchor="middle" fill="#4d4d4d" textLength="29.19" lengthAdjust="spacingAndGlyphs" transform="matrix(1 0 0 1.04 0 -46.982)">10.0</text>
<text x="401.30" y="1193.68" font-size="11.6" text-anchor="middle" fill="#1a1a1a" font-weight="bold" textLength="39.16" lengthAdjust="spacingAndGlyphs">nmol/L</text>
<text x="114.30" y="1087.73" font-size="15.0" text-anchor="end" fill="#4d4d4d" textLength="85.59" lengthAdjust="spacingAndGlyphs" transform="matrix(1 0 0 1.03 0 -32.632)">11OHA4_nM</text>
<text x="243.87" y="1097.12" font-size="18.0" text-anchor="start" fill="#000" textLength="9.68" lengthAdjust="spacingAndGlyphs" transform="matrix(1 0 0 1.04 0 -43.885)">4</text>
<text x="476.81" y="1098.92" font-size="18.0" text-anchor="start" fill="#000" textLength="11.00" lengthAdjust="spacingAndGlyphs" transform="matrix(1 0 0 1.04 0 -43.957)">2</text>
</g>
<path d="M763,0 L583,0 L583,1147 Q520,1087 424,1031 Q328,975 223,930 L223,1104 Q375,1175 488,1277 Q601,1379 647,1472 L763,1472 Z" fill="#4d4d4d" transform="matrix(0.00732 0 0 -0.00732 27.59 270.29)"/>
<path d="M763,0 L583,0 L583,1147 Q520,1087 424,1031 Q328,975 223,930 L223,1104 Q375,1175 488,1277 Q601,1379 647,1472 L763,1472 Z" fill="#4d4d4d" transform="matrix(0.00732 0 0 -0.00732 27.59 297.44)"/>
<path d="M763,0 L583,0 L583,1147 Q520,1087 424,1031 Q328,975 223,930 L223,1104 Q375,1175 488,1277 Q601,1379 647,1472 L763,1472 Z" fill="#4d4d4d" transform="matrix(0.00732 0 0 -0.00732 27.59 324.59)"/>
<path d="M763,0 L583,0 L583,1147 Q520,1087 424,1031 Q328,975 223,930 L223,1104 Q375,1175 488,1277 Q601,1379 647,1472 L763,1472 Z" fill="#4d4d4d" transform="matrix(0.00732 0 0 -0.00732 37.89 351.74)"/>
<path d="M763,0 L583,0 L583,1147 Q520,1087 424,1031 Q328,975 223,930 L223,1104 Q375,1175 488,1277 Q601,1379 647,1472 L763,1472 Z" fill="#4d4d4d" transform="matrix(0.00732 0 0 -0.00732 45.11 351.74)"/>
<path d="M763,0 L583,0 L583,1147 Q520,1087 424,1031 Q328,975 223,930 L223,1104 Q375,1175 488,1277 Q601,1379 647,1472 L763,1472 Z" fill="#4d4d4d" transform="matrix(0.00732 0 0 -0.00732 50.39 378.89)"/>
<path d="M763,0 L583,0 L583,1147 Q520,1087 424,1031 Q328,975 223,930 L223,1104 Q375,1175 488,1277 Q601,1379 647,1472 L763,1472 Z" fill="#4d4d4d" transform="matrix(0.00732 0 0 -0.00732 57.61 378.89)"/>
<path d="M763,0 L583,0 L583,1147 Q520,1087 424,1031 Q328,975 223,930 L223,1104 Q375,1175 488,1277 Q601,1379 647,1472 L763,1472 Z" fill="#4d4d4d" transform="matrix(0.00732 0 0 -0.00732 41.20 406.04)"/>
<path d="M763,0 L583,0 L583,1147 Q520,1087 424,1031 Q328,975 223,930 L223,1104 Q375,1175 488,1277 Q601,1379 647,1472 L763,1472 Z" fill="#4d4d4d" transform="matrix(0.00732 0 0 -0.00732 48.42 406.04)"/>
<path d="M763,0 L583,0 L583,1147 Q520,1087 424,1031 Q328,975 223,930 L223,1104 Q375,1175 488,1277 Q601,1379 647,1472 L763,1472 Z" fill="#4d4d4d" transform="matrix(0.00732 0 0 -0.00732 0.67 433.19)"/>
<path d="M763,0 L583,0 L583,1147 Q520,1087 424,1031 Q328,975 223,930 L223,1104 Q375,1175 488,1277 Q601,1379 647,1472 L763,1472 Z" fill="#4d4d4d" transform="matrix(0.00732 0 0 -0.00732 7.89 433.19)"/>
<path d="M763,0 L583,0 L583,1147 Q520,1087 424,1031 Q328,975 223,930 L223,1104 Q375,1175 488,1277 Q601,1379 647,1472 L763,1472 Z" fill="#000" transform="matrix(0.00879 0 0 -0.00879 172.07 115.12)"/>
<path d="M763,0 L583,0 L583,1147 Q520,1087 424,1031 Q328,975 223,930 L223,1104 Q375,1175 488,1277 Q601,1379 647,1472 L763,1472 Z" fill="#000" transform="matrix(0.00899 0 0 -0.00879 160.12 142.12)"/>
<path d="M763,0 L583,0 L583,1147 Q520,1087 424,1031 Q328,975 223,930 L223,1104 Q375,1175 488,1277 Q601,1379 647,1472 L763,1472 Z" fill="#000" transform="matrix(0.00863 0 0 -0.00879 203.17 170.32)"/>
<path d="M763,0 L583,0 L583,1147 Q520,1087 424,1031 Q328,975 223,930 L223,1104 Q375,1175 488,1277 Q601,1379 647,1472 L763,1472 Z" fill="#000" transform="matrix(0.00863 0 0 -0.00879 227.75 170.32)"/>
<path d="M763,0 L583,0 L583,1147 Q520,1087 424,1031 Q328,975 223,930 L223,1104 Q375,1175 488,1277 Q601,1379 647,1472 L763,1472 Z" fill="#000" transform="matrix(0.00876 0 0 -0.00879 160.85 250.12)"/>
<path d="M763,0 L583,0 L583,1147 Q520,1087 424,1031 Q328,975 223,930 L223,1104 Q375,1175 488,1277 Q601,1379 647,1472 L763,1472 Z" fill="#000" transform="matrix(0.00876 0 0 -0.00879 443.75 142.22)"/>
<path d="M763,0 L583,0 L583,1147 Q520,1087 424,1031 Q328,975 223,930 L223,1104 Q375,1175 488,1277 Q601,1379 647,1472 L763,1472 Z" fill="#000" transform="matrix(0.00876 0 0 -0.00879 458.70 142.22)"/>
<path d="M763,0 L583,0 L583,1147 Q520,1087 424,1031 Q328,975 223,930 L223,1104 Q375,1175 488,1277 Q601,1379 647,1472 L763,1472 Z" fill="#000" transform="matrix(0.00885 0 0 -0.00879 444.54 250.82)"/>
<path d="M763,0 L583,0 L583,1147 Q520,1087 424,1031 Q328,975 223,930 L223,1104 Q375,1175 488,1277 Q601,1379 647,1472 L763,1472 Z" fill="#000" transform="matrix(0.00879 0 0 -0.00879 463.07 278.62)"/>
<path d="M763,0 L583,0 L583,1147 Q520,1087 424,1031 Q328,975 223,930 L223,1104 Q375,1175 488,1277 Q601,1379 647,1472 L763,1472 Z" fill="#000" transform="matrix(0.00932 0 0 -0.00879 555.65 623.62)"/>
<path d="M763,0 L583,0 L583,1147 Q520,1087 424,1031 Q328,975 223,930 L223,1104 Q375,1175 488,1277 Q601,1379 647,1472 L763,1472 Z" fill="#4d4d4d" transform="matrix(0.00732 0 0 -0.00732 183.09 938.04)"/>
<path d="M763,0 L583,0 L583,1147 Q520,1087 424,1031 Q328,975 223,930 L223,1104 Q375,1175 488,1277 Q601,1379 647,1472 L763,1472 Z" fill="#4d4d4d" transform="matrix(0.00732 0 0 -0.00732 467.49 938.04)"/>
<path d="M763,0 L583,0 L583,1147 Q520,1087 424,1031 Q328,975 223,930 L223,1104 Q375,1175 488,1277 Q601,1379 647,1472 L763,1472 Z" fill="#000" transform="matrix(0.00930 0 0 -0.00879 267.27 861.32)"/>
<path d="M763,0 L583,0 L583,1147 Q520,1087 424,1031 Q328,975 223,930 L223,1104 Q375,1175 488,1277 Q601,1379 647,1472 L763,1472 Z" fill="#4d4d4d" transform="matrix(0.00732 0 0 -0.00732 361.01 1174.54)"/>
<path d="M763,0 L583,0 L583,1147 Q520,1087 424,1031 Q328,975 223,930 L223,1104 Q375,1175 488,1277 Q601,1379 647,1472 L763,1472 Z" fill="#4d4d4d" transform="matrix(0.00732 0 0 -0.00732 645.01 1174.54)"/>
<path d="M763,0 L583,0 L583,1147 Q520,1087 424,1031 Q328,975 223,930 L223,1104 Q375,1175 488,1277 Q601,1379 647,1472 L763,1472 Z" fill="#4d4d4d" transform="matrix(0.00732 0 0 -0.00732 28.71 1087.73)"/>
<path d="M763,0 L583,0 L583,1147 Q520,1087 424,1031 Q328,975 223,930 L223,1104 Q375,1175 488,1277 Q601,1379 647,1472 L763,1472 Z" fill="#4d4d4d" transform="matrix(0.00732 0 0 -0.00732 35.93 1087.73)"/>
</g></svg></div></body></html>
